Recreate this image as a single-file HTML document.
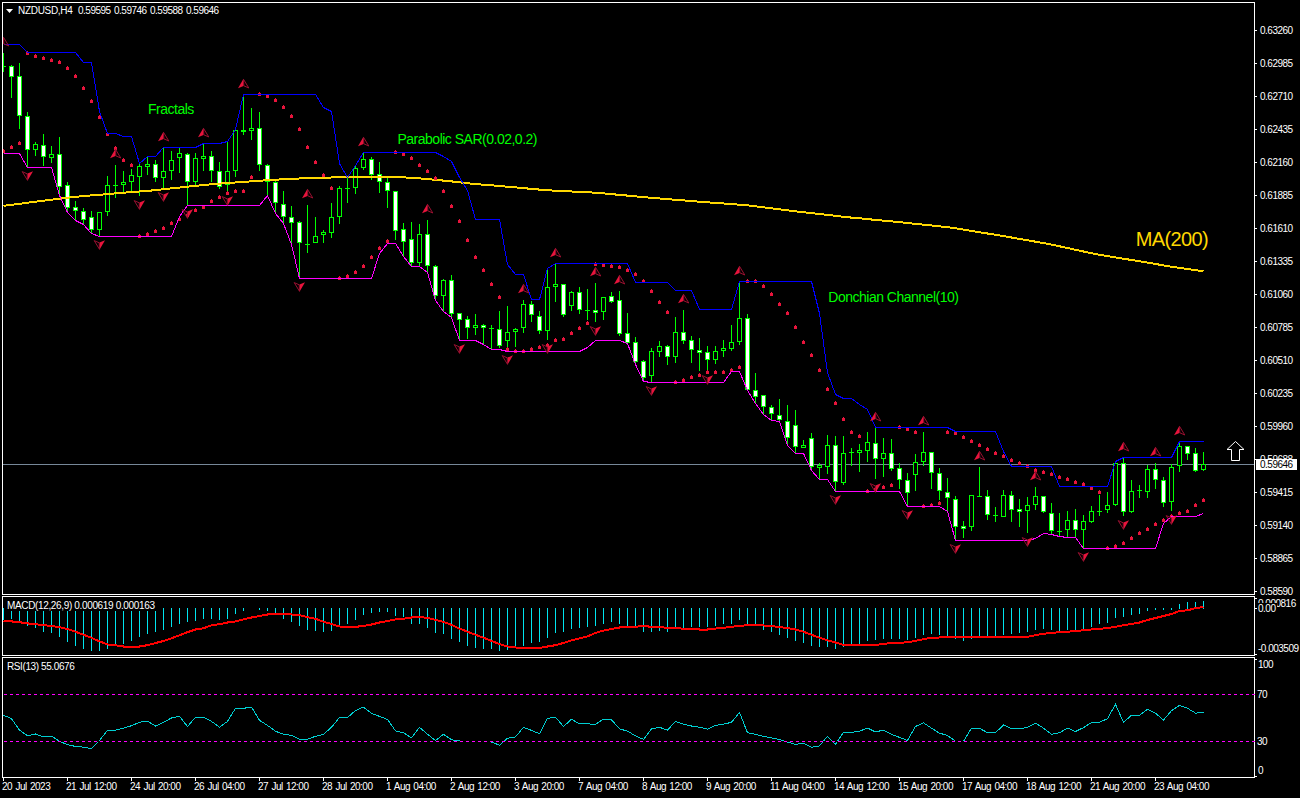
<!DOCTYPE html>
<html><head><meta charset="utf-8"><title>NZDUSD,H4</title>
<style>
html,body{margin:0;padding:0;background:#000;width:1300px;height:798px;overflow:hidden;}
svg{display:block;}
text{white-space:pre;}
</style></head><body>
<svg width="1300" height="798" viewBox="0 0 1300 798">
<defs><clipPath id="cm"><rect x="3" y="3" width="1251" height="591"/></clipPath><clipPath id="cd"><rect x="3" y="597" width="1251" height="58"/></clipPath><clipPath id="cr"><rect x="3" y="658" width="1251" height="119"/></clipPath></defs>
<rect width="1300" height="798" fill="#000"/>
<g shape-rendering="crispEdges">
<rect x="2" y="2" width="1253" height="1" fill="#fff"/>
<rect x="2" y="594" width="1253" height="1" fill="#fff"/>
<rect x="2" y="2" width="1" height="593" fill="#fff"/>
<rect x="1254" y="2" width="1" height="593" fill="#fff"/>
<rect x="2" y="596" width="1253" height="1" fill="#fff"/>
<rect x="2" y="655" width="1253" height="1" fill="#fff"/>
<rect x="2" y="596" width="1" height="60" fill="#fff"/>
<rect x="1254" y="596" width="1" height="60" fill="#fff"/>
<rect x="2" y="657" width="1253" height="1" fill="#fff"/>
<rect x="2" y="777" width="1253" height="1" fill="#fff"/>
<rect x="2" y="657" width="1" height="121" fill="#fff"/>
<rect x="1254" y="657" width="1" height="121" fill="#fff"/>
<g clip-path="url(#cm)">
<rect x="3" y="464" width="1251" height="1" fill="#778899"/>
<rect x="3" y="53" width="1" height="19" fill="#00ff00"/>
<rect x="1" y="66" width="5" height="1" fill="#00ff00"/>
<rect x="11" y="65" width="1" height="33" fill="#00ff00"/>
<rect x="9" y="66" width="5" height="11" fill="#00ff00"/>
<rect x="10" y="67" width="3" height="9" fill="#ffffff"/>
<rect x="19" y="63" width="1" height="66" fill="#00ff00"/>
<rect x="17" y="76" width="5" height="40" fill="#00ff00"/>
<rect x="18" y="77" width="3" height="38" fill="#ffffff"/>
<rect x="27" y="112" width="1" height="55" fill="#00ff00"/>
<rect x="25" y="116" width="5" height="34" fill="#00ff00"/>
<rect x="26" y="117" width="3" height="32" fill="#ffffff"/>
<rect x="35" y="142" width="1" height="14" fill="#00ff00"/>
<rect x="33" y="144" width="5" height="6" fill="#00ff00"/>
<rect x="34" y="145" width="3" height="4" fill="#000000"/>
<rect x="43" y="134" width="1" height="32" fill="#00ff00"/>
<rect x="41" y="145" width="5" height="12" fill="#00ff00"/>
<rect x="42" y="146" width="3" height="10" fill="#ffffff"/>
<rect x="51" y="146" width="1" height="17" fill="#00ff00"/>
<rect x="49" y="154" width="5" height="4" fill="#00ff00"/>
<rect x="50" y="155" width="3" height="2" fill="#000000"/>
<rect x="59" y="137" width="1" height="58" fill="#00ff00"/>
<rect x="57" y="154" width="5" height="33" fill="#00ff00"/>
<rect x="58" y="155" width="3" height="31" fill="#ffffff"/>
<rect x="67" y="182" width="1" height="30" fill="#00ff00"/>
<rect x="65" y="185" width="5" height="23" fill="#00ff00"/>
<rect x="66" y="186" width="3" height="21" fill="#ffffff"/>
<rect x="75" y="201" width="1" height="19" fill="#00ff00"/>
<rect x="73" y="207" width="5" height="4" fill="#00ff00"/>
<rect x="74" y="208" width="3" height="2" fill="#ffffff"/>
<rect x="83" y="208" width="1" height="16" fill="#00ff00"/>
<rect x="81" y="211" width="5" height="9" fill="#00ff00"/>
<rect x="82" y="212" width="3" height="7" fill="#ffffff"/>
<rect x="91" y="211" width="1" height="22" fill="#00ff00"/>
<rect x="89" y="217" width="5" height="13" fill="#00ff00"/>
<rect x="90" y="218" width="3" height="11" fill="#ffffff"/>
<rect x="99" y="212" width="1" height="24" fill="#00ff00"/>
<rect x="97" y="212" width="5" height="18" fill="#00ff00"/>
<rect x="98" y="213" width="3" height="16" fill="#000000"/>
<rect x="107" y="176" width="1" height="40" fill="#00ff00"/>
<rect x="105" y="185" width="5" height="27" fill="#00ff00"/>
<rect x="106" y="186" width="3" height="25" fill="#000000"/>
<rect x="115" y="165" width="1" height="33" fill="#00ff00"/>
<rect x="113" y="185" width="5" height="1" fill="#00ff00"/>
<rect x="123" y="171" width="1" height="21" fill="#00ff00"/>
<rect x="121" y="182" width="5" height="3" fill="#00ff00"/>
<rect x="122" y="183" width="3" height="1" fill="#000000"/>
<rect x="131" y="169" width="1" height="23" fill="#00ff00"/>
<rect x="129" y="175" width="5" height="7" fill="#00ff00"/>
<rect x="130" y="176" width="3" height="5" fill="#000000"/>
<rect x="139" y="164" width="1" height="32" fill="#00ff00"/>
<rect x="137" y="166" width="5" height="11" fill="#00ff00"/>
<rect x="138" y="167" width="3" height="9" fill="#000000"/>
<rect x="147" y="157" width="1" height="18" fill="#00ff00"/>
<rect x="145" y="164" width="5" height="3" fill="#00ff00"/>
<rect x="146" y="165" width="3" height="1" fill="#000000"/>
<rect x="155" y="160" width="1" height="22" fill="#00ff00"/>
<rect x="153" y="164" width="5" height="14" fill="#00ff00"/>
<rect x="154" y="165" width="3" height="12" fill="#ffffff"/>
<rect x="163" y="148" width="1" height="40" fill="#00ff00"/>
<rect x="161" y="171" width="5" height="7" fill="#00ff00"/>
<rect x="162" y="172" width="3" height="5" fill="#000000"/>
<rect x="171" y="151" width="1" height="29" fill="#00ff00"/>
<rect x="169" y="160" width="5" height="11" fill="#00ff00"/>
<rect x="170" y="161" width="3" height="9" fill="#000000"/>
<rect x="179" y="148" width="1" height="25" fill="#00ff00"/>
<rect x="177" y="153" width="5" height="5" fill="#00ff00"/>
<rect x="178" y="154" width="3" height="3" fill="#000000"/>
<rect x="187" y="153" width="1" height="52" fill="#00ff00"/>
<rect x="185" y="154" width="5" height="28" fill="#00ff00"/>
<rect x="186" y="155" width="3" height="26" fill="#ffffff"/>
<rect x="195" y="153" width="1" height="32" fill="#00ff00"/>
<rect x="193" y="158" width="5" height="24" fill="#00ff00"/>
<rect x="194" y="159" width="3" height="22" fill="#000000"/>
<rect x="203" y="144" width="1" height="27" fill="#00ff00"/>
<rect x="201" y="156" width="5" height="3" fill="#00ff00"/>
<rect x="202" y="157" width="3" height="1" fill="#000000"/>
<rect x="211" y="151" width="1" height="31" fill="#00ff00"/>
<rect x="209" y="156" width="5" height="15" fill="#00ff00"/>
<rect x="210" y="157" width="3" height="13" fill="#ffffff"/>
<rect x="219" y="162" width="1" height="27" fill="#00ff00"/>
<rect x="217" y="171" width="5" height="16" fill="#00ff00"/>
<rect x="218" y="172" width="3" height="14" fill="#ffffff"/>
<rect x="227" y="142" width="1" height="50" fill="#00ff00"/>
<rect x="225" y="171" width="5" height="14" fill="#00ff00"/>
<rect x="226" y="172" width="3" height="12" fill="#000000"/>
<rect x="235" y="130" width="1" height="47" fill="#00ff00"/>
<rect x="233" y="130" width="5" height="41" fill="#00ff00"/>
<rect x="234" y="131" width="3" height="39" fill="#000000"/>
<rect x="243" y="95" width="1" height="40" fill="#00ff00"/>
<rect x="241" y="130" width="5" height="2" fill="#00ff00"/>
<rect x="251" y="108" width="1" height="32" fill="#00ff00"/>
<rect x="249" y="128" width="5" height="3" fill="#00ff00"/>
<rect x="250" y="129" width="3" height="1" fill="#000000"/>
<rect x="259" y="112" width="1" height="59" fill="#00ff00"/>
<rect x="257" y="128" width="5" height="37" fill="#00ff00"/>
<rect x="258" y="129" width="3" height="35" fill="#ffffff"/>
<rect x="267" y="164" width="1" height="31" fill="#00ff00"/>
<rect x="265" y="165" width="5" height="17" fill="#00ff00"/>
<rect x="266" y="166" width="3" height="15" fill="#ffffff"/>
<rect x="275" y="181" width="1" height="32" fill="#00ff00"/>
<rect x="273" y="182" width="5" height="21" fill="#00ff00"/>
<rect x="274" y="183" width="3" height="19" fill="#ffffff"/>
<rect x="283" y="191" width="1" height="32" fill="#00ff00"/>
<rect x="281" y="204" width="5" height="13" fill="#00ff00"/>
<rect x="282" y="205" width="3" height="11" fill="#ffffff"/>
<rect x="291" y="206" width="1" height="38" fill="#00ff00"/>
<rect x="289" y="217" width="5" height="6" fill="#00ff00"/>
<rect x="290" y="218" width="3" height="4" fill="#ffffff"/>
<rect x="299" y="221" width="1" height="57" fill="#00ff00"/>
<rect x="297" y="222" width="5" height="21" fill="#00ff00"/>
<rect x="298" y="223" width="3" height="19" fill="#ffffff"/>
<rect x="307" y="205" width="1" height="48" fill="#00ff00"/>
<rect x="305" y="244" width="5" height="1" fill="#00ff00"/>
<rect x="315" y="217" width="1" height="26" fill="#00ff00"/>
<rect x="313" y="236" width="5" height="7" fill="#00ff00"/>
<rect x="314" y="237" width="3" height="5" fill="#000000"/>
<rect x="323" y="230" width="1" height="13" fill="#00ff00"/>
<rect x="321" y="232" width="5" height="3" fill="#00ff00"/>
<rect x="322" y="233" width="3" height="1" fill="#000000"/>
<rect x="331" y="203" width="1" height="35" fill="#00ff00"/>
<rect x="329" y="217" width="5" height="16" fill="#00ff00"/>
<rect x="330" y="218" width="3" height="14" fill="#000000"/>
<rect x="339" y="186" width="1" height="38" fill="#00ff00"/>
<rect x="337" y="188" width="5" height="29" fill="#00ff00"/>
<rect x="338" y="189" width="3" height="27" fill="#000000"/>
<rect x="347" y="178" width="1" height="25" fill="#00ff00"/>
<rect x="345" y="188" width="5" height="1" fill="#00ff00"/>
<rect x="355" y="166" width="1" height="28" fill="#00ff00"/>
<rect x="353" y="168" width="5" height="20" fill="#00ff00"/>
<rect x="354" y="169" width="3" height="18" fill="#000000"/>
<rect x="363" y="153" width="1" height="17" fill="#00ff00"/>
<rect x="361" y="159" width="5" height="9" fill="#00ff00"/>
<rect x="362" y="160" width="3" height="7" fill="#000000"/>
<rect x="371" y="157" width="1" height="23" fill="#00ff00"/>
<rect x="369" y="159" width="5" height="16" fill="#00ff00"/>
<rect x="370" y="160" width="3" height="14" fill="#ffffff"/>
<rect x="379" y="162" width="1" height="31" fill="#00ff00"/>
<rect x="377" y="174" width="5" height="8" fill="#00ff00"/>
<rect x="378" y="175" width="3" height="6" fill="#ffffff"/>
<rect x="387" y="178" width="1" height="30" fill="#00ff00"/>
<rect x="385" y="182" width="5" height="9" fill="#00ff00"/>
<rect x="386" y="183" width="3" height="7" fill="#ffffff"/>
<rect x="395" y="191" width="1" height="49" fill="#00ff00"/>
<rect x="393" y="191" width="5" height="40" fill="#00ff00"/>
<rect x="394" y="192" width="3" height="38" fill="#ffffff"/>
<rect x="403" y="223" width="1" height="33" fill="#00ff00"/>
<rect x="401" y="229" width="5" height="13" fill="#00ff00"/>
<rect x="402" y="230" width="3" height="11" fill="#ffffff"/>
<rect x="411" y="222" width="1" height="44" fill="#00ff00"/>
<rect x="409" y="239" width="5" height="24" fill="#00ff00"/>
<rect x="410" y="240" width="3" height="22" fill="#ffffff"/>
<rect x="419" y="224" width="1" height="42" fill="#00ff00"/>
<rect x="417" y="234" width="5" height="29" fill="#00ff00"/>
<rect x="418" y="235" width="3" height="27" fill="#000000"/>
<rect x="427" y="220" width="1" height="52" fill="#00ff00"/>
<rect x="425" y="234" width="5" height="32" fill="#00ff00"/>
<rect x="426" y="235" width="3" height="30" fill="#ffffff"/>
<rect x="435" y="265" width="1" height="35" fill="#00ff00"/>
<rect x="433" y="266" width="5" height="30" fill="#00ff00"/>
<rect x="434" y="267" width="3" height="28" fill="#ffffff"/>
<rect x="443" y="279" width="1" height="32" fill="#00ff00"/>
<rect x="441" y="280" width="5" height="16" fill="#00ff00"/>
<rect x="442" y="281" width="3" height="14" fill="#000000"/>
<rect x="451" y="275" width="1" height="42" fill="#00ff00"/>
<rect x="449" y="280" width="5" height="34" fill="#00ff00"/>
<rect x="450" y="281" width="3" height="32" fill="#ffffff"/>
<rect x="459" y="313" width="1" height="27" fill="#00ff00"/>
<rect x="457" y="313" width="5" height="7" fill="#00ff00"/>
<rect x="458" y="314" width="3" height="5" fill="#ffffff"/>
<rect x="467" y="316" width="1" height="23" fill="#00ff00"/>
<rect x="465" y="319" width="5" height="9" fill="#00ff00"/>
<rect x="466" y="320" width="3" height="7" fill="#ffffff"/>
<rect x="475" y="314" width="1" height="21" fill="#00ff00"/>
<rect x="473" y="325" width="5" height="3" fill="#00ff00"/>
<rect x="474" y="326" width="3" height="1" fill="#000000"/>
<rect x="483" y="324" width="1" height="20" fill="#00ff00"/>
<rect x="481" y="325" width="5" height="3" fill="#00ff00"/>
<rect x="482" y="326" width="3" height="1" fill="#ffffff"/>
<rect x="491" y="325" width="1" height="24" fill="#00ff00"/>
<rect x="489" y="328" width="5" height="1" fill="#00ff00"/>
<rect x="499" y="311" width="1" height="37" fill="#00ff00"/>
<rect x="497" y="329" width="5" height="17" fill="#00ff00"/>
<rect x="498" y="330" width="3" height="15" fill="#ffffff"/>
<rect x="507" y="306" width="1" height="45" fill="#00ff00"/>
<rect x="505" y="332" width="5" height="9" fill="#00ff00"/>
<rect x="506" y="333" width="3" height="7" fill="#000000"/>
<rect x="515" y="328" width="1" height="19" fill="#00ff00"/>
<rect x="513" y="329" width="5" height="3" fill="#00ff00"/>
<rect x="514" y="330" width="3" height="1" fill="#000000"/>
<rect x="523" y="300" width="1" height="33" fill="#00ff00"/>
<rect x="521" y="304" width="5" height="24" fill="#00ff00"/>
<rect x="522" y="305" width="3" height="22" fill="#000000"/>
<rect x="531" y="301" width="1" height="21" fill="#00ff00"/>
<rect x="529" y="304" width="5" height="11" fill="#00ff00"/>
<rect x="530" y="305" width="3" height="9" fill="#ffffff"/>
<rect x="539" y="311" width="1" height="23" fill="#00ff00"/>
<rect x="537" y="316" width="5" height="15" fill="#00ff00"/>
<rect x="538" y="317" width="3" height="13" fill="#ffffff"/>
<rect x="547" y="269" width="1" height="71" fill="#00ff00"/>
<rect x="545" y="287" width="5" height="44" fill="#00ff00"/>
<rect x="546" y="288" width="3" height="42" fill="#000000"/>
<rect x="555" y="264" width="1" height="38" fill="#00ff00"/>
<rect x="553" y="284" width="5" height="3" fill="#00ff00"/>
<rect x="554" y="285" width="3" height="1" fill="#000000"/>
<rect x="563" y="284" width="1" height="33" fill="#00ff00"/>
<rect x="561" y="284" width="5" height="31" fill="#00ff00"/>
<rect x="562" y="285" width="3" height="29" fill="#ffffff"/>
<rect x="571" y="291" width="1" height="20" fill="#00ff00"/>
<rect x="569" y="292" width="5" height="14" fill="#00ff00"/>
<rect x="570" y="293" width="3" height="12" fill="#000000"/>
<rect x="579" y="287" width="1" height="27" fill="#00ff00"/>
<rect x="577" y="292" width="5" height="18" fill="#00ff00"/>
<rect x="578" y="293" width="3" height="16" fill="#ffffff"/>
<rect x="587" y="289" width="1" height="31" fill="#00ff00"/>
<rect x="585" y="310" width="5" height="1" fill="#00ff00"/>
<rect x="595" y="283" width="1" height="39" fill="#00ff00"/>
<rect x="593" y="310" width="5" height="3" fill="#00ff00"/>
<rect x="594" y="311" width="3" height="1" fill="#ffffff"/>
<rect x="603" y="297" width="1" height="23" fill="#00ff00"/>
<rect x="601" y="297" width="5" height="15" fill="#00ff00"/>
<rect x="602" y="298" width="3" height="13" fill="#000000"/>
<rect x="611" y="292" width="1" height="11" fill="#00ff00"/>
<rect x="609" y="296" width="5" height="6" fill="#00ff00"/>
<rect x="610" y="297" width="3" height="4" fill="#ffffff"/>
<rect x="619" y="291" width="1" height="45" fill="#00ff00"/>
<rect x="617" y="300" width="5" height="34" fill="#00ff00"/>
<rect x="618" y="301" width="3" height="32" fill="#ffffff"/>
<rect x="627" y="313" width="1" height="30" fill="#00ff00"/>
<rect x="625" y="333" width="5" height="10" fill="#00ff00"/>
<rect x="626" y="334" width="3" height="8" fill="#ffffff"/>
<rect x="635" y="337" width="1" height="27" fill="#00ff00"/>
<rect x="633" y="342" width="5" height="20" fill="#00ff00"/>
<rect x="634" y="343" width="3" height="18" fill="#ffffff"/>
<rect x="643" y="360" width="1" height="21" fill="#00ff00"/>
<rect x="641" y="361" width="5" height="17" fill="#00ff00"/>
<rect x="642" y="362" width="3" height="15" fill="#ffffff"/>
<rect x="651" y="348" width="1" height="34" fill="#00ff00"/>
<rect x="649" y="351" width="5" height="25" fill="#00ff00"/>
<rect x="650" y="352" width="3" height="23" fill="#000000"/>
<rect x="659" y="341" width="1" height="16" fill="#00ff00"/>
<rect x="657" y="346" width="5" height="6" fill="#00ff00"/>
<rect x="658" y="347" width="3" height="4" fill="#000000"/>
<rect x="667" y="345" width="1" height="20" fill="#00ff00"/>
<rect x="665" y="346" width="5" height="11" fill="#00ff00"/>
<rect x="666" y="347" width="3" height="9" fill="#ffffff"/>
<rect x="675" y="317" width="1" height="46" fill="#00ff00"/>
<rect x="673" y="332" width="5" height="25" fill="#00ff00"/>
<rect x="674" y="333" width="3" height="23" fill="#000000"/>
<rect x="683" y="310" width="1" height="34" fill="#00ff00"/>
<rect x="681" y="332" width="5" height="9" fill="#00ff00"/>
<rect x="682" y="333" width="3" height="7" fill="#ffffff"/>
<rect x="691" y="336" width="1" height="27" fill="#00ff00"/>
<rect x="689" y="340" width="5" height="10" fill="#00ff00"/>
<rect x="690" y="341" width="3" height="8" fill="#ffffff"/>
<rect x="699" y="338" width="1" height="33" fill="#00ff00"/>
<rect x="697" y="350" width="5" height="3" fill="#00ff00"/>
<rect x="698" y="351" width="3" height="1" fill="#ffffff"/>
<rect x="707" y="346" width="1" height="25" fill="#00ff00"/>
<rect x="705" y="352" width="5" height="8" fill="#00ff00"/>
<rect x="706" y="353" width="3" height="6" fill="#ffffff"/>
<rect x="715" y="346" width="1" height="18" fill="#00ff00"/>
<rect x="713" y="351" width="5" height="9" fill="#00ff00"/>
<rect x="714" y="352" width="3" height="7" fill="#000000"/>
<rect x="723" y="340" width="1" height="17" fill="#00ff00"/>
<rect x="721" y="348" width="5" height="3" fill="#00ff00"/>
<rect x="722" y="349" width="3" height="1" fill="#000000"/>
<rect x="731" y="325" width="1" height="26" fill="#00ff00"/>
<rect x="729" y="342" width="5" height="7" fill="#00ff00"/>
<rect x="730" y="343" width="3" height="5" fill="#000000"/>
<rect x="739" y="282" width="1" height="63" fill="#00ff00"/>
<rect x="737" y="318" width="5" height="24" fill="#00ff00"/>
<rect x="738" y="319" width="3" height="22" fill="#000000"/>
<rect x="747" y="314" width="1" height="76" fill="#00ff00"/>
<rect x="745" y="318" width="5" height="72" fill="#00ff00"/>
<rect x="746" y="319" width="3" height="70" fill="#ffffff"/>
<rect x="755" y="373" width="1" height="30" fill="#00ff00"/>
<rect x="753" y="390" width="5" height="7" fill="#00ff00"/>
<rect x="754" y="391" width="3" height="5" fill="#ffffff"/>
<rect x="763" y="395" width="1" height="19" fill="#00ff00"/>
<rect x="761" y="395" width="5" height="12" fill="#00ff00"/>
<rect x="762" y="396" width="3" height="10" fill="#ffffff"/>
<rect x="771" y="405" width="1" height="15" fill="#00ff00"/>
<rect x="769" y="407" width="5" height="7" fill="#00ff00"/>
<rect x="770" y="408" width="3" height="5" fill="#ffffff"/>
<rect x="779" y="399" width="1" height="22" fill="#00ff00"/>
<rect x="777" y="415" width="5" height="5" fill="#00ff00"/>
<rect x="778" y="416" width="3" height="3" fill="#ffffff"/>
<rect x="787" y="405" width="1" height="40" fill="#00ff00"/>
<rect x="785" y="421" width="5" height="17" fill="#00ff00"/>
<rect x="786" y="422" width="3" height="15" fill="#ffffff"/>
<rect x="795" y="410" width="1" height="43" fill="#00ff00"/>
<rect x="793" y="425" width="5" height="22" fill="#00ff00"/>
<rect x="794" y="426" width="3" height="20" fill="#ffffff"/>
<rect x="803" y="440" width="1" height="8" fill="#00ff00"/>
<rect x="801" y="445" width="5" height="3" fill="#00ff00"/>
<rect x="802" y="446" width="3" height="1" fill="#000000"/>
<rect x="811" y="433" width="1" height="37" fill="#00ff00"/>
<rect x="809" y="438" width="5" height="29" fill="#00ff00"/>
<rect x="810" y="439" width="3" height="27" fill="#ffffff"/>
<rect x="819" y="463" width="1" height="16" fill="#00ff00"/>
<rect x="817" y="465" width="5" height="3" fill="#00ff00"/>
<rect x="818" y="466" width="3" height="1" fill="#000000"/>
<rect x="827" y="435" width="1" height="39" fill="#00ff00"/>
<rect x="825" y="445" width="5" height="22" fill="#00ff00"/>
<rect x="826" y="446" width="3" height="20" fill="#000000"/>
<rect x="835" y="436" width="1" height="55" fill="#00ff00"/>
<rect x="833" y="445" width="5" height="37" fill="#00ff00"/>
<rect x="834" y="446" width="3" height="35" fill="#ffffff"/>
<rect x="843" y="436" width="1" height="49" fill="#00ff00"/>
<rect x="841" y="453" width="5" height="30" fill="#00ff00"/>
<rect x="842" y="454" width="3" height="28" fill="#000000"/>
<rect x="851" y="448" width="1" height="18" fill="#00ff00"/>
<rect x="849" y="452" width="5" height="1" fill="#00ff00"/>
<rect x="859" y="444" width="1" height="28" fill="#00ff00"/>
<rect x="857" y="450" width="5" height="3" fill="#00ff00"/>
<rect x="858" y="451" width="3" height="1" fill="#000000"/>
<rect x="867" y="432" width="1" height="30" fill="#00ff00"/>
<rect x="865" y="442" width="5" height="9" fill="#00ff00"/>
<rect x="866" y="443" width="3" height="7" fill="#000000"/>
<rect x="875" y="428" width="1" height="51" fill="#00ff00"/>
<rect x="873" y="443" width="5" height="16" fill="#00ff00"/>
<rect x="874" y="444" width="3" height="14" fill="#ffffff"/>
<rect x="883" y="438" width="1" height="39" fill="#00ff00"/>
<rect x="881" y="453" width="5" height="6" fill="#00ff00"/>
<rect x="882" y="454" width="3" height="4" fill="#000000"/>
<rect x="891" y="439" width="1" height="32" fill="#00ff00"/>
<rect x="889" y="453" width="5" height="16" fill="#00ff00"/>
<rect x="890" y="454" width="3" height="14" fill="#ffffff"/>
<rect x="899" y="463" width="1" height="26" fill="#00ff00"/>
<rect x="897" y="468" width="5" height="12" fill="#00ff00"/>
<rect x="898" y="469" width="3" height="10" fill="#ffffff"/>
<rect x="907" y="473" width="1" height="33" fill="#00ff00"/>
<rect x="905" y="480" width="5" height="13" fill="#00ff00"/>
<rect x="906" y="481" width="3" height="11" fill="#ffffff"/>
<rect x="915" y="454" width="1" height="37" fill="#00ff00"/>
<rect x="913" y="462" width="5" height="13" fill="#00ff00"/>
<rect x="914" y="463" width="3" height="11" fill="#000000"/>
<rect x="923" y="432" width="1" height="34" fill="#00ff00"/>
<rect x="921" y="452" width="5" height="10" fill="#00ff00"/>
<rect x="922" y="453" width="3" height="8" fill="#000000"/>
<rect x="931" y="452" width="1" height="37" fill="#00ff00"/>
<rect x="929" y="452" width="5" height="21" fill="#00ff00"/>
<rect x="930" y="453" width="3" height="19" fill="#ffffff"/>
<rect x="939" y="468" width="1" height="32" fill="#00ff00"/>
<rect x="937" y="473" width="5" height="18" fill="#00ff00"/>
<rect x="938" y="474" width="3" height="16" fill="#ffffff"/>
<rect x="947" y="478" width="1" height="33" fill="#00ff00"/>
<rect x="945" y="492" width="5" height="6" fill="#00ff00"/>
<rect x="946" y="493" width="3" height="4" fill="#ffffff"/>
<rect x="955" y="496" width="1" height="44" fill="#00ff00"/>
<rect x="953" y="499" width="5" height="28" fill="#00ff00"/>
<rect x="954" y="500" width="3" height="26" fill="#ffffff"/>
<rect x="963" y="521" width="1" height="17" fill="#00ff00"/>
<rect x="961" y="526" width="5" height="3" fill="#00ff00"/>
<rect x="962" y="527" width="3" height="1" fill="#ffffff"/>
<rect x="971" y="495" width="1" height="36" fill="#00ff00"/>
<rect x="969" y="495" width="5" height="32" fill="#00ff00"/>
<rect x="970" y="496" width="3" height="30" fill="#000000"/>
<rect x="979" y="467" width="1" height="30" fill="#00ff00"/>
<rect x="977" y="496" width="5" height="1" fill="#00ff00"/>
<rect x="987" y="490" width="1" height="30" fill="#00ff00"/>
<rect x="985" y="496" width="5" height="19" fill="#00ff00"/>
<rect x="986" y="497" width="3" height="17" fill="#ffffff"/>
<rect x="995" y="507" width="1" height="15" fill="#00ff00"/>
<rect x="993" y="515" width="5" height="1" fill="#00ff00"/>
<rect x="1003" y="490" width="1" height="27" fill="#00ff00"/>
<rect x="1001" y="495" width="5" height="22" fill="#00ff00"/>
<rect x="1002" y="496" width="3" height="20" fill="#000000"/>
<rect x="1011" y="491" width="1" height="31" fill="#00ff00"/>
<rect x="1009" y="495" width="5" height="15" fill="#00ff00"/>
<rect x="1010" y="496" width="3" height="13" fill="#ffffff"/>
<rect x="1019" y="499" width="1" height="28" fill="#00ff00"/>
<rect x="1017" y="509" width="5" height="3" fill="#00ff00"/>
<rect x="1018" y="510" width="3" height="1" fill="#ffffff"/>
<rect x="1027" y="497" width="1" height="36" fill="#00ff00"/>
<rect x="1025" y="505" width="5" height="6" fill="#00ff00"/>
<rect x="1026" y="506" width="3" height="4" fill="#000000"/>
<rect x="1035" y="487" width="1" height="23" fill="#00ff00"/>
<rect x="1033" y="496" width="5" height="9" fill="#00ff00"/>
<rect x="1034" y="497" width="3" height="7" fill="#000000"/>
<rect x="1043" y="496" width="1" height="17" fill="#00ff00"/>
<rect x="1041" y="496" width="5" height="16" fill="#00ff00"/>
<rect x="1042" y="497" width="3" height="14" fill="#ffffff"/>
<rect x="1051" y="503" width="1" height="31" fill="#00ff00"/>
<rect x="1049" y="513" width="5" height="18" fill="#00ff00"/>
<rect x="1050" y="514" width="3" height="16" fill="#ffffff"/>
<rect x="1059" y="513" width="1" height="23" fill="#00ff00"/>
<rect x="1057" y="531" width="5" height="1" fill="#00ff00"/>
<rect x="1067" y="511" width="1" height="26" fill="#00ff00"/>
<rect x="1065" y="520" width="5" height="10" fill="#00ff00"/>
<rect x="1066" y="521" width="3" height="8" fill="#000000"/>
<rect x="1075" y="509" width="1" height="28" fill="#00ff00"/>
<rect x="1073" y="520" width="5" height="10" fill="#00ff00"/>
<rect x="1074" y="521" width="3" height="8" fill="#ffffff"/>
<rect x="1083" y="515" width="1" height="33" fill="#00ff00"/>
<rect x="1081" y="521" width="5" height="9" fill="#00ff00"/>
<rect x="1082" y="522" width="3" height="7" fill="#000000"/>
<rect x="1091" y="506" width="1" height="17" fill="#00ff00"/>
<rect x="1089" y="511" width="5" height="11" fill="#00ff00"/>
<rect x="1090" y="512" width="3" height="9" fill="#000000"/>
<rect x="1099" y="495" width="1" height="21" fill="#00ff00"/>
<rect x="1097" y="511" width="5" height="1" fill="#00ff00"/>
<rect x="1107" y="492" width="1" height="21" fill="#00ff00"/>
<rect x="1105" y="505" width="5" height="5" fill="#00ff00"/>
<rect x="1106" y="506" width="3" height="3" fill="#000000"/>
<rect x="1115" y="462" width="1" height="44" fill="#00ff00"/>
<rect x="1113" y="463" width="5" height="42" fill="#00ff00"/>
<rect x="1114" y="464" width="3" height="40" fill="#000000"/>
<rect x="1123" y="458" width="1" height="58" fill="#00ff00"/>
<rect x="1121" y="463" width="5" height="49" fill="#00ff00"/>
<rect x="1122" y="464" width="3" height="47" fill="#ffffff"/>
<rect x="1131" y="480" width="1" height="33" fill="#00ff00"/>
<rect x="1129" y="491" width="5" height="21" fill="#00ff00"/>
<rect x="1130" y="492" width="3" height="19" fill="#000000"/>
<rect x="1139" y="485" width="1" height="13" fill="#00ff00"/>
<rect x="1137" y="490" width="5" height="1" fill="#00ff00"/>
<rect x="1147" y="465" width="1" height="33" fill="#00ff00"/>
<rect x="1145" y="469" width="5" height="23" fill="#00ff00"/>
<rect x="1146" y="470" width="3" height="21" fill="#000000"/>
<rect x="1155" y="463" width="1" height="26" fill="#00ff00"/>
<rect x="1153" y="469" width="5" height="11" fill="#00ff00"/>
<rect x="1154" y="470" width="3" height="9" fill="#ffffff"/>
<rect x="1163" y="477" width="1" height="30" fill="#00ff00"/>
<rect x="1161" y="480" width="5" height="23" fill="#00ff00"/>
<rect x="1162" y="481" width="3" height="21" fill="#ffffff"/>
<rect x="1171" y="464" width="1" height="47" fill="#00ff00"/>
<rect x="1169" y="467" width="5" height="35" fill="#00ff00"/>
<rect x="1170" y="468" width="3" height="33" fill="#000000"/>
<rect x="1179" y="442" width="1" height="30" fill="#00ff00"/>
<rect x="1177" y="446" width="5" height="20" fill="#00ff00"/>
<rect x="1178" y="447" width="3" height="18" fill="#000000"/>
<rect x="1187" y="446" width="1" height="14" fill="#00ff00"/>
<rect x="1185" y="446" width="5" height="8" fill="#00ff00"/>
<rect x="1186" y="447" width="3" height="6" fill="#ffffff"/>
<rect x="1195" y="448" width="1" height="24" fill="#00ff00"/>
<rect x="1193" y="453" width="5" height="18" fill="#00ff00"/>
<rect x="1194" y="454" width="3" height="16" fill="#ffffff"/>
<rect x="1203" y="452" width="1" height="19" fill="#00ff00"/>
<rect x="1201" y="464" width="5" height="6" fill="#00ff00"/>
<rect x="1202" y="465" width="3" height="4" fill="#000000"/>
<polyline points="3.5,205.9 11.5,204.8 19.5,203.8 27.5,202.7 35.5,201.7 43.5,200.7 51.5,199.7 59.5,198.7 67.5,197.7 75.5,196.8 83.5,196.1 91.5,195.4 99.5,194.8 107.5,194.1 115.5,193.4 123.5,192.7 131.5,192.1 139.5,191.5 147.5,190.9 155.5,190.1 163.5,189.2 171.5,188.4 179.5,187.6 187.5,186.7 195.5,185.8 203.5,185.1 211.5,184.3 219.5,183.6 227.5,183.0 235.5,182.5 243.5,181.9 251.5,181.3 259.5,180.8 267.5,180.2 275.5,179.7 283.5,179.3 291.5,178.8 299.5,178.5 307.5,178.2 315.5,177.9 323.5,177.7 331.5,177.5 339.5,177.4 347.5,177.2 355.5,177.1 363.5,177.0 371.5,176.8 379.5,176.8 387.5,176.9 395.5,177.0 403.5,177.3 411.5,177.9 419.5,178.4 427.5,179.1 435.5,179.8 443.5,180.6 451.5,181.4 459.5,182.3 467.5,183.3 475.5,184.1 483.5,184.7 491.5,185.3 499.5,186.0 507.5,186.7 515.5,187.4 523.5,188.1 531.5,188.9 539.5,189.6 547.5,190.3 555.5,190.7 563.5,191.1 571.5,191.5 579.5,191.9 587.5,192.3 595.5,192.7 603.5,193.4 611.5,194.1 619.5,194.9 627.5,195.6 635.5,196.4 643.5,197.1 651.5,197.8 659.5,198.5 667.5,199.1 675.5,199.8 683.5,200.4 691.5,201.1 699.5,201.7 707.5,202.3 715.5,202.9 723.5,203.5 731.5,204.1 739.5,204.7 747.5,205.3 755.5,206.3 763.5,207.3 771.5,208.3 779.5,209.3 787.5,210.3 795.5,211.3 803.5,212.2 811.5,213.1 819.5,214.0 827.5,214.9 835.5,215.8 843.5,216.8 851.5,217.6 859.5,218.3 867.5,219.1 875.5,219.9 883.5,220.7 891.5,221.4 899.5,222.2 907.5,223.0 915.5,223.9 923.5,224.7 931.5,225.5 939.5,226.3 947.5,227.2 955.5,228.3 963.5,229.6 971.5,230.9 979.5,232.2 987.5,233.5 995.5,234.7 1003.5,236.1 1011.5,237.5 1019.5,238.9 1027.5,240.3 1035.5,241.7 1043.5,243.1 1051.5,244.6 1059.5,246.3 1067.5,248.0 1075.5,249.8 1083.5,251.5 1091.5,253.2 1099.5,254.8 1107.5,256.1 1115.5,257.4 1123.5,258.7 1131.5,260.0 1139.5,261.3 1147.5,262.6 1155.5,264.0 1163.5,265.4 1171.5,266.8 1179.5,267.9 1187.5,269.0 1195.5,270.2 1203.5,271.3" fill="none" stroke="#ffd700" stroke-width="2"/>
<rect x="2" y="150" width="3" height="3" fill="#e8143c"/>
<rect x="3" y="149" width="1" height="1" fill="#e8143c"/>
<rect x="10" y="146" width="3" height="3" fill="#e8143c"/>
<rect x="11" y="145" width="1" height="1" fill="#e8143c"/>
<rect x="18" y="142" width="3" height="3" fill="#e8143c"/>
<rect x="19" y="141" width="1" height="1" fill="#e8143c"/>
<rect x="26" y="52" width="3" height="3" fill="#e8143c"/>
<rect x="27" y="51" width="1" height="1" fill="#e8143c"/>
<rect x="34" y="55" width="3" height="3" fill="#e8143c"/>
<rect x="35" y="54" width="1" height="1" fill="#e8143c"/>
<rect x="42" y="57" width="3" height="3" fill="#e8143c"/>
<rect x="43" y="56" width="1" height="1" fill="#e8143c"/>
<rect x="50" y="59" width="3" height="3" fill="#e8143c"/>
<rect x="51" y="58" width="1" height="1" fill="#e8143c"/>
<rect x="58" y="61" width="3" height="3" fill="#e8143c"/>
<rect x="59" y="60" width="1" height="1" fill="#e8143c"/>
<rect x="66" y="67" width="3" height="3" fill="#e8143c"/>
<rect x="67" y="66" width="1" height="1" fill="#e8143c"/>
<rect x="74" y="75" width="3" height="3" fill="#e8143c"/>
<rect x="75" y="74" width="1" height="1" fill="#e8143c"/>
<rect x="82" y="87" width="3" height="3" fill="#e8143c"/>
<rect x="83" y="86" width="1" height="1" fill="#e8143c"/>
<rect x="90" y="100" width="3" height="3" fill="#e8143c"/>
<rect x="91" y="99" width="1" height="1" fill="#e8143c"/>
<rect x="98" y="116" width="3" height="3" fill="#e8143c"/>
<rect x="99" y="115" width="1" height="1" fill="#e8143c"/>
<rect x="106" y="133" width="3" height="3" fill="#e8143c"/>
<rect x="107" y="132" width="1" height="1" fill="#e8143c"/>
<rect x="114" y="147" width="3" height="3" fill="#e8143c"/>
<rect x="115" y="146" width="1" height="1" fill="#e8143c"/>
<rect x="122" y="159" width="3" height="3" fill="#e8143c"/>
<rect x="123" y="158" width="1" height="1" fill="#e8143c"/>
<rect x="130" y="164" width="3" height="3" fill="#e8143c"/>
<rect x="131" y="163" width="1" height="1" fill="#e8143c"/>
<rect x="138" y="235" width="3" height="3" fill="#e8143c"/>
<rect x="139" y="234" width="1" height="1" fill="#e8143c"/>
<rect x="146" y="233" width="3" height="3" fill="#e8143c"/>
<rect x="147" y="232" width="1" height="1" fill="#e8143c"/>
<rect x="154" y="230" width="3" height="3" fill="#e8143c"/>
<rect x="155" y="229" width="1" height="1" fill="#e8143c"/>
<rect x="162" y="227" width="3" height="3" fill="#e8143c"/>
<rect x="163" y="226" width="1" height="1" fill="#e8143c"/>
<rect x="170" y="222" width="3" height="3" fill="#e8143c"/>
<rect x="171" y="221" width="1" height="1" fill="#e8143c"/>
<rect x="178" y="218" width="3" height="3" fill="#e8143c"/>
<rect x="179" y="217" width="1" height="1" fill="#e8143c"/>
<rect x="186" y="214" width="3" height="3" fill="#e8143c"/>
<rect x="187" y="213" width="1" height="1" fill="#e8143c"/>
<rect x="194" y="209" width="3" height="3" fill="#e8143c"/>
<rect x="195" y="208" width="1" height="1" fill="#e8143c"/>
<rect x="202" y="206" width="3" height="3" fill="#e8143c"/>
<rect x="203" y="205" width="1" height="1" fill="#e8143c"/>
<rect x="210" y="200" width="3" height="3" fill="#e8143c"/>
<rect x="211" y="199" width="1" height="1" fill="#e8143c"/>
<rect x="218" y="196" width="3" height="3" fill="#e8143c"/>
<rect x="219" y="195" width="1" height="1" fill="#e8143c"/>
<rect x="226" y="192" width="3" height="3" fill="#e8143c"/>
<rect x="227" y="191" width="1" height="1" fill="#e8143c"/>
<rect x="234" y="190" width="3" height="3" fill="#e8143c"/>
<rect x="235" y="189" width="1" height="1" fill="#e8143c"/>
<rect x="242" y="190" width="3" height="3" fill="#e8143c"/>
<rect x="243" y="189" width="1" height="1" fill="#e8143c"/>
<rect x="250" y="176" width="3" height="3" fill="#e8143c"/>
<rect x="251" y="175" width="1" height="1" fill="#e8143c"/>
<rect x="258" y="93" width="3" height="3" fill="#e8143c"/>
<rect x="259" y="92" width="1" height="1" fill="#e8143c"/>
<rect x="266" y="95" width="3" height="3" fill="#e8143c"/>
<rect x="267" y="94" width="1" height="1" fill="#e8143c"/>
<rect x="274" y="99" width="3" height="3" fill="#e8143c"/>
<rect x="275" y="98" width="1" height="1" fill="#e8143c"/>
<rect x="282" y="106" width="3" height="3" fill="#e8143c"/>
<rect x="283" y="105" width="1" height="1" fill="#e8143c"/>
<rect x="290" y="115" width="3" height="3" fill="#e8143c"/>
<rect x="291" y="114" width="1" height="1" fill="#e8143c"/>
<rect x="298" y="128" width="3" height="3" fill="#e8143c"/>
<rect x="299" y="127" width="1" height="1" fill="#e8143c"/>
<rect x="306" y="146" width="3" height="3" fill="#e8143c"/>
<rect x="307" y="145" width="1" height="1" fill="#e8143c"/>
<rect x="314" y="161" width="3" height="3" fill="#e8143c"/>
<rect x="315" y="160" width="1" height="1" fill="#e8143c"/>
<rect x="322" y="174" width="3" height="3" fill="#e8143c"/>
<rect x="323" y="173" width="1" height="1" fill="#e8143c"/>
<rect x="330" y="187" width="3" height="3" fill="#e8143c"/>
<rect x="331" y="186" width="1" height="1" fill="#e8143c"/>
<rect x="338" y="277" width="3" height="3" fill="#e8143c"/>
<rect x="339" y="276" width="1" height="1" fill="#e8143c"/>
<rect x="346" y="275" width="3" height="3" fill="#e8143c"/>
<rect x="347" y="274" width="1" height="1" fill="#e8143c"/>
<rect x="354" y="271" width="3" height="3" fill="#e8143c"/>
<rect x="355" y="270" width="1" height="1" fill="#e8143c"/>
<rect x="362" y="265" width="3" height="3" fill="#e8143c"/>
<rect x="363" y="264" width="1" height="1" fill="#e8143c"/>
<rect x="370" y="256" width="3" height="3" fill="#e8143c"/>
<rect x="371" y="255" width="1" height="1" fill="#e8143c"/>
<rect x="378" y="247" width="3" height="3" fill="#e8143c"/>
<rect x="379" y="246" width="1" height="1" fill="#e8143c"/>
<rect x="386" y="240" width="3" height="3" fill="#e8143c"/>
<rect x="387" y="239" width="1" height="1" fill="#e8143c"/>
<rect x="394" y="151" width="3" height="3" fill="#e8143c"/>
<rect x="395" y="150" width="1" height="1" fill="#e8143c"/>
<rect x="402" y="153" width="3" height="3" fill="#e8143c"/>
<rect x="403" y="152" width="1" height="1" fill="#e8143c"/>
<rect x="410" y="157" width="3" height="3" fill="#e8143c"/>
<rect x="411" y="156" width="1" height="1" fill="#e8143c"/>
<rect x="418" y="164" width="3" height="3" fill="#e8143c"/>
<rect x="419" y="163" width="1" height="1" fill="#e8143c"/>
<rect x="426" y="170" width="3" height="3" fill="#e8143c"/>
<rect x="427" y="169" width="1" height="1" fill="#e8143c"/>
<rect x="434" y="177" width="3" height="3" fill="#e8143c"/>
<rect x="435" y="176" width="1" height="1" fill="#e8143c"/>
<rect x="442" y="190" width="3" height="3" fill="#e8143c"/>
<rect x="443" y="189" width="1" height="1" fill="#e8143c"/>
<rect x="450" y="205" width="3" height="3" fill="#e8143c"/>
<rect x="451" y="204" width="1" height="1" fill="#e8143c"/>
<rect x="458" y="220" width="3" height="3" fill="#e8143c"/>
<rect x="459" y="219" width="1" height="1" fill="#e8143c"/>
<rect x="466" y="239" width="3" height="3" fill="#e8143c"/>
<rect x="467" y="238" width="1" height="1" fill="#e8143c"/>
<rect x="474" y="256" width="3" height="3" fill="#e8143c"/>
<rect x="475" y="255" width="1" height="1" fill="#e8143c"/>
<rect x="482" y="269" width="3" height="3" fill="#e8143c"/>
<rect x="483" y="268" width="1" height="1" fill="#e8143c"/>
<rect x="490" y="283" width="3" height="3" fill="#e8143c"/>
<rect x="491" y="282" width="1" height="1" fill="#e8143c"/>
<rect x="498" y="296" width="3" height="3" fill="#e8143c"/>
<rect x="499" y="295" width="1" height="1" fill="#e8143c"/>
<rect x="506" y="348" width="3" height="3" fill="#e8143c"/>
<rect x="507" y="347" width="1" height="1" fill="#e8143c"/>
<rect x="514" y="350" width="3" height="3" fill="#e8143c"/>
<rect x="515" y="349" width="1" height="1" fill="#e8143c"/>
<rect x="522" y="350" width="3" height="3" fill="#e8143c"/>
<rect x="523" y="349" width="1" height="1" fill="#e8143c"/>
<rect x="530" y="348" width="3" height="3" fill="#e8143c"/>
<rect x="531" y="347" width="1" height="1" fill="#e8143c"/>
<rect x="538" y="346" width="3" height="3" fill="#e8143c"/>
<rect x="539" y="345" width="1" height="1" fill="#e8143c"/>
<rect x="546" y="344" width="3" height="3" fill="#e8143c"/>
<rect x="547" y="343" width="1" height="1" fill="#e8143c"/>
<rect x="554" y="339" width="3" height="3" fill="#e8143c"/>
<rect x="555" y="338" width="1" height="1" fill="#e8143c"/>
<rect x="562" y="338" width="3" height="3" fill="#e8143c"/>
<rect x="563" y="337" width="1" height="1" fill="#e8143c"/>
<rect x="570" y="332" width="3" height="3" fill="#e8143c"/>
<rect x="571" y="331" width="1" height="1" fill="#e8143c"/>
<rect x="578" y="327" width="3" height="3" fill="#e8143c"/>
<rect x="579" y="326" width="1" height="1" fill="#e8143c"/>
<rect x="586" y="322" width="3" height="3" fill="#e8143c"/>
<rect x="587" y="321" width="1" height="1" fill="#e8143c"/>
<rect x="594" y="263" width="3" height="3" fill="#e8143c"/>
<rect x="595" y="262" width="1" height="1" fill="#e8143c"/>
<rect x="602" y="264" width="3" height="3" fill="#e8143c"/>
<rect x="603" y="263" width="1" height="1" fill="#e8143c"/>
<rect x="610" y="265" width="3" height="3" fill="#e8143c"/>
<rect x="611" y="264" width="1" height="1" fill="#e8143c"/>
<rect x="618" y="266" width="3" height="3" fill="#e8143c"/>
<rect x="619" y="265" width="1" height="1" fill="#e8143c"/>
<rect x="626" y="269" width="3" height="3" fill="#e8143c"/>
<rect x="627" y="268" width="1" height="1" fill="#e8143c"/>
<rect x="634" y="273" width="3" height="3" fill="#e8143c"/>
<rect x="635" y="272" width="1" height="1" fill="#e8143c"/>
<rect x="642" y="280" width="3" height="3" fill="#e8143c"/>
<rect x="643" y="279" width="1" height="1" fill="#e8143c"/>
<rect x="650" y="290" width="3" height="3" fill="#e8143c"/>
<rect x="651" y="289" width="1" height="1" fill="#e8143c"/>
<rect x="658" y="301" width="3" height="3" fill="#e8143c"/>
<rect x="659" y="300" width="1" height="1" fill="#e8143c"/>
<rect x="666" y="311" width="3" height="3" fill="#e8143c"/>
<rect x="667" y="310" width="1" height="1" fill="#e8143c"/>
<rect x="674" y="381" width="3" height="3" fill="#e8143c"/>
<rect x="675" y="380" width="1" height="1" fill="#e8143c"/>
<rect x="682" y="379" width="3" height="3" fill="#e8143c"/>
<rect x="683" y="378" width="1" height="1" fill="#e8143c"/>
<rect x="690" y="376" width="3" height="3" fill="#e8143c"/>
<rect x="691" y="375" width="1" height="1" fill="#e8143c"/>
<rect x="698" y="374" width="3" height="3" fill="#e8143c"/>
<rect x="699" y="373" width="1" height="1" fill="#e8143c"/>
<rect x="706" y="371" width="3" height="3" fill="#e8143c"/>
<rect x="707" y="370" width="1" height="1" fill="#e8143c"/>
<rect x="714" y="371" width="3" height="3" fill="#e8143c"/>
<rect x="715" y="370" width="1" height="1" fill="#e8143c"/>
<rect x="722" y="371" width="3" height="3" fill="#e8143c"/>
<rect x="723" y="370" width="1" height="1" fill="#e8143c"/>
<rect x="730" y="369" width="3" height="3" fill="#e8143c"/>
<rect x="731" y="368" width="1" height="1" fill="#e8143c"/>
<rect x="738" y="366" width="3" height="3" fill="#e8143c"/>
<rect x="739" y="365" width="1" height="1" fill="#e8143c"/>
<rect x="746" y="280" width="3" height="3" fill="#e8143c"/>
<rect x="747" y="279" width="1" height="1" fill="#e8143c"/>
<rect x="754" y="280" width="3" height="3" fill="#e8143c"/>
<rect x="755" y="279" width="1" height="1" fill="#e8143c"/>
<rect x="762" y="285" width="3" height="3" fill="#e8143c"/>
<rect x="763" y="284" width="1" height="1" fill="#e8143c"/>
<rect x="770" y="293" width="3" height="3" fill="#e8143c"/>
<rect x="771" y="292" width="1" height="1" fill="#e8143c"/>
<rect x="778" y="303" width="3" height="3" fill="#e8143c"/>
<rect x="779" y="302" width="1" height="1" fill="#e8143c"/>
<rect x="786" y="312" width="3" height="3" fill="#e8143c"/>
<rect x="787" y="311" width="1" height="1" fill="#e8143c"/>
<rect x="794" y="326" width="3" height="3" fill="#e8143c"/>
<rect x="795" y="325" width="1" height="1" fill="#e8143c"/>
<rect x="802" y="341" width="3" height="3" fill="#e8143c"/>
<rect x="803" y="340" width="1" height="1" fill="#e8143c"/>
<rect x="810" y="354" width="3" height="3" fill="#e8143c"/>
<rect x="811" y="353" width="1" height="1" fill="#e8143c"/>
<rect x="818" y="369" width="3" height="3" fill="#e8143c"/>
<rect x="819" y="368" width="1" height="1" fill="#e8143c"/>
<rect x="826" y="388" width="3" height="3" fill="#e8143c"/>
<rect x="827" y="387" width="1" height="1" fill="#e8143c"/>
<rect x="834" y="402" width="3" height="3" fill="#e8143c"/>
<rect x="835" y="401" width="1" height="1" fill="#e8143c"/>
<rect x="842" y="418" width="3" height="3" fill="#e8143c"/>
<rect x="843" y="417" width="1" height="1" fill="#e8143c"/>
<rect x="850" y="431" width="3" height="3" fill="#e8143c"/>
<rect x="851" y="430" width="1" height="1" fill="#e8143c"/>
<rect x="858" y="435" width="3" height="3" fill="#e8143c"/>
<rect x="859" y="434" width="1" height="1" fill="#e8143c"/>
<rect x="866" y="490" width="3" height="3" fill="#e8143c"/>
<rect x="867" y="489" width="1" height="1" fill="#e8143c"/>
<rect x="874" y="488" width="3" height="3" fill="#e8143c"/>
<rect x="875" y="487" width="1" height="1" fill="#e8143c"/>
<rect x="882" y="486" width="3" height="3" fill="#e8143c"/>
<rect x="883" y="485" width="1" height="1" fill="#e8143c"/>
<rect x="890" y="484" width="3" height="3" fill="#e8143c"/>
<rect x="891" y="483" width="1" height="1" fill="#e8143c"/>
<rect x="898" y="426" width="3" height="3" fill="#e8143c"/>
<rect x="899" y="425" width="1" height="1" fill="#e8143c"/>
<rect x="906" y="428" width="3" height="3" fill="#e8143c"/>
<rect x="907" y="427" width="1" height="1" fill="#e8143c"/>
<rect x="914" y="431" width="3" height="3" fill="#e8143c"/>
<rect x="915" y="430" width="1" height="1" fill="#e8143c"/>
<rect x="922" y="505" width="3" height="3" fill="#e8143c"/>
<rect x="923" y="504" width="1" height="1" fill="#e8143c"/>
<rect x="930" y="504" width="3" height="3" fill="#e8143c"/>
<rect x="931" y="503" width="1" height="1" fill="#e8143c"/>
<rect x="938" y="502" width="3" height="3" fill="#e8143c"/>
<rect x="939" y="501" width="1" height="1" fill="#e8143c"/>
<rect x="946" y="431" width="3" height="3" fill="#e8143c"/>
<rect x="947" y="430" width="1" height="1" fill="#e8143c"/>
<rect x="954" y="432" width="3" height="3" fill="#e8143c"/>
<rect x="955" y="431" width="1" height="1" fill="#e8143c"/>
<rect x="962" y="436" width="3" height="3" fill="#e8143c"/>
<rect x="963" y="435" width="1" height="1" fill="#e8143c"/>
<rect x="970" y="440" width="3" height="3" fill="#e8143c"/>
<rect x="971" y="439" width="1" height="1" fill="#e8143c"/>
<rect x="978" y="444" width="3" height="3" fill="#e8143c"/>
<rect x="979" y="443" width="1" height="1" fill="#e8143c"/>
<rect x="986" y="448" width="3" height="3" fill="#e8143c"/>
<rect x="987" y="447" width="1" height="1" fill="#e8143c"/>
<rect x="994" y="452" width="3" height="3" fill="#e8143c"/>
<rect x="995" y="451" width="1" height="1" fill="#e8143c"/>
<rect x="1002" y="455" width="3" height="3" fill="#e8143c"/>
<rect x="1003" y="454" width="1" height="1" fill="#e8143c"/>
<rect x="1010" y="459" width="3" height="3" fill="#e8143c"/>
<rect x="1011" y="458" width="1" height="1" fill="#e8143c"/>
<rect x="1018" y="462" width="3" height="3" fill="#e8143c"/>
<rect x="1019" y="461" width="1" height="1" fill="#e8143c"/>
<rect x="1026" y="465" width="3" height="3" fill="#e8143c"/>
<rect x="1027" y="464" width="1" height="1" fill="#e8143c"/>
<rect x="1034" y="469" width="3" height="3" fill="#e8143c"/>
<rect x="1035" y="468" width="1" height="1" fill="#e8143c"/>
<rect x="1042" y="471" width="3" height="3" fill="#e8143c"/>
<rect x="1043" y="470" width="1" height="1" fill="#e8143c"/>
<rect x="1050" y="473" width="3" height="3" fill="#e8143c"/>
<rect x="1051" y="472" width="1" height="1" fill="#e8143c"/>
<rect x="1058" y="476" width="3" height="3" fill="#e8143c"/>
<rect x="1059" y="475" width="1" height="1" fill="#e8143c"/>
<rect x="1066" y="478" width="3" height="3" fill="#e8143c"/>
<rect x="1067" y="477" width="1" height="1" fill="#e8143c"/>
<rect x="1074" y="481" width="3" height="3" fill="#e8143c"/>
<rect x="1075" y="480" width="1" height="1" fill="#e8143c"/>
<rect x="1082" y="483" width="3" height="3" fill="#e8143c"/>
<rect x="1083" y="482" width="1" height="1" fill="#e8143c"/>
<rect x="1090" y="487" width="3" height="3" fill="#e8143c"/>
<rect x="1091" y="486" width="1" height="1" fill="#e8143c"/>
<rect x="1098" y="491" width="3" height="3" fill="#e8143c"/>
<rect x="1099" y="490" width="1" height="1" fill="#e8143c"/>
<rect x="1106" y="547" width="3" height="3" fill="#e8143c"/>
<rect x="1107" y="546" width="1" height="1" fill="#e8143c"/>
<rect x="1114" y="545" width="3" height="3" fill="#e8143c"/>
<rect x="1115" y="544" width="1" height="1" fill="#e8143c"/>
<rect x="1122" y="542" width="3" height="3" fill="#e8143c"/>
<rect x="1123" y="541" width="1" height="1" fill="#e8143c"/>
<rect x="1130" y="537" width="3" height="3" fill="#e8143c"/>
<rect x="1131" y="536" width="1" height="1" fill="#e8143c"/>
<rect x="1138" y="532" width="3" height="3" fill="#e8143c"/>
<rect x="1139" y="531" width="1" height="1" fill="#e8143c"/>
<rect x="1146" y="528" width="3" height="3" fill="#e8143c"/>
<rect x="1147" y="527" width="1" height="1" fill="#e8143c"/>
<rect x="1154" y="523" width="3" height="3" fill="#e8143c"/>
<rect x="1155" y="522" width="1" height="1" fill="#e8143c"/>
<rect x="1162" y="519" width="3" height="3" fill="#e8143c"/>
<rect x="1163" y="518" width="1" height="1" fill="#e8143c"/>
<rect x="1170" y="515" width="3" height="3" fill="#e8143c"/>
<rect x="1171" y="514" width="1" height="1" fill="#e8143c"/>
<rect x="1178" y="512" width="3" height="3" fill="#e8143c"/>
<rect x="1179" y="511" width="1" height="1" fill="#e8143c"/>
<rect x="1186" y="510" width="3" height="3" fill="#e8143c"/>
<rect x="1187" y="509" width="1" height="1" fill="#e8143c"/>
<rect x="1194" y="504" width="3" height="3" fill="#e8143c"/>
<rect x="1195" y="503" width="1" height="1" fill="#e8143c"/>
<rect x="1202" y="499" width="3" height="3" fill="#e8143c"/>
<rect x="1203" y="498" width="1" height="1" fill="#e8143c"/>
<polyline points="3.5,44.5 11.5,44.5 19.5,44.5 27.5,52.5 35.5,52.5 43.5,52.5 51.5,52.5 59.5,52.5 67.5,52.5 75.5,52.5 83.5,62.5 91.5,62.5 99.5,111.5 107.5,133.5 115.5,133.5 123.5,136.5 131.5,136.5 139.5,163.5 147.5,156.5 155.5,156.5 163.5,147.5 171.5,147.5 179.5,147.5 187.5,147.5 195.5,147.5 203.5,143.5 211.5,143.5 219.5,143.5 227.5,141.5 235.5,129.5 243.5,94.5 251.5,94.5 259.5,94.5 267.5,94.5 275.5,94.5 283.5,94.5 291.5,94.5 299.5,94.5 307.5,94.5 315.5,94.5 323.5,107.5 331.5,111.5 339.5,163.5 347.5,177.5 355.5,165.5 363.5,152.5 371.5,152.5 379.5,152.5 387.5,152.5 395.5,152.5 403.5,152.5 411.5,152.5 419.5,152.5 427.5,152.5 435.5,152.5 443.5,156.5 451.5,161.5 459.5,177.5 467.5,190.5 475.5,219.5 483.5,219.5 491.5,219.5 499.5,219.5 507.5,264.5 515.5,274.5 523.5,274.5 531.5,299.5 539.5,299.5 547.5,268.5 555.5,263.5 563.5,263.5 571.5,263.5 579.5,263.5 587.5,263.5 595.5,263.5 603.5,263.5 611.5,263.5 619.5,263.5 627.5,263.5 635.5,282.5 643.5,282.5 651.5,282.5 659.5,282.5 667.5,282.5 675.5,290.5 683.5,290.5 691.5,290.5 699.5,309.5 707.5,309.5 715.5,309.5 723.5,309.5 731.5,309.5 739.5,281.5 747.5,281.5 755.5,281.5 763.5,281.5 771.5,281.5 779.5,281.5 787.5,281.5 795.5,281.5 803.5,281.5 811.5,281.5 819.5,313.5 827.5,372.5 835.5,394.5 843.5,398.5 851.5,398.5 859.5,404.5 867.5,409.5 875.5,427.5 883.5,427.5 891.5,427.5 899.5,427.5 907.5,427.5 915.5,427.5 923.5,427.5 931.5,427.5 939.5,427.5 947.5,427.5 955.5,431.5 963.5,431.5 971.5,431.5 979.5,431.5 987.5,431.5 995.5,431.5 1003.5,451.5 1011.5,466.5 1019.5,466.5 1027.5,466.5 1035.5,466.5 1043.5,466.5 1051.5,466.5 1059.5,486.5 1067.5,486.5 1075.5,486.5 1083.5,486.5 1091.5,486.5 1099.5,486.5 1107.5,486.5 1115.5,461.5 1123.5,457.5 1131.5,457.5 1139.5,457.5 1147.5,457.5 1155.5,457.5 1163.5,457.5 1171.5,457.5 1179.5,441.5 1187.5,441.5 1195.5,441.5 1203.5,441.5" fill="none" stroke="#0000ff" stroke-width="1"/>
<polyline points="3.5,153.5 11.5,153.5 19.5,153.5 27.5,167.5 35.5,167.5 43.5,167.5 51.5,167.5 59.5,195.5 67.5,212.5 75.5,220.5 83.5,224.5 91.5,233.5 99.5,236.5 107.5,236.5 115.5,236.5 123.5,236.5 131.5,236.5 139.5,236.5 147.5,236.5 155.5,236.5 163.5,236.5 171.5,236.5 179.5,216.5 187.5,205.5 195.5,205.5 203.5,205.5 211.5,205.5 219.5,205.5 227.5,205.5 235.5,205.5 243.5,205.5 251.5,205.5 259.5,205.5 267.5,195.5 275.5,213.5 283.5,223.5 291.5,244.5 299.5,278.5 307.5,278.5 315.5,278.5 323.5,278.5 331.5,278.5 339.5,278.5 347.5,278.5 355.5,278.5 363.5,278.5 371.5,278.5 379.5,253.5 387.5,243.5 395.5,243.5 403.5,256.5 411.5,266.5 419.5,266.5 427.5,272.5 435.5,300.5 443.5,311.5 451.5,317.5 459.5,340.5 467.5,340.5 475.5,340.5 483.5,344.5 491.5,349.5 499.5,349.5 507.5,351.5 515.5,351.5 523.5,351.5 531.5,351.5 539.5,351.5 547.5,351.5 555.5,351.5 563.5,351.5 571.5,351.5 579.5,351.5 587.5,347.5 595.5,340.5 603.5,340.5 611.5,340.5 619.5,340.5 627.5,343.5 635.5,364.5 643.5,381.5 651.5,382.5 659.5,382.5 667.5,382.5 675.5,382.5 683.5,382.5 691.5,382.5 699.5,382.5 707.5,382.5 715.5,382.5 723.5,382.5 731.5,371.5 739.5,371.5 747.5,390.5 755.5,403.5 763.5,414.5 771.5,420.5 779.5,421.5 787.5,445.5 795.5,453.5 803.5,453.5 811.5,470.5 819.5,479.5 827.5,479.5 835.5,491.5 843.5,491.5 851.5,491.5 859.5,491.5 867.5,491.5 875.5,491.5 883.5,491.5 891.5,491.5 899.5,491.5 907.5,506.5 915.5,506.5 923.5,506.5 931.5,506.5 939.5,506.5 947.5,511.5 955.5,540.5 963.5,540.5 971.5,540.5 979.5,540.5 987.5,540.5 995.5,540.5 1003.5,540.5 1011.5,540.5 1019.5,540.5 1027.5,540.5 1035.5,538.5 1043.5,533.5 1051.5,534.5 1059.5,536.5 1067.5,537.5 1075.5,537.5 1083.5,548.5 1091.5,548.5 1099.5,548.5 1107.5,548.5 1115.5,548.5 1123.5,548.5 1131.5,548.5 1139.5,548.5 1147.5,548.5 1155.5,548.5 1163.5,523.5 1171.5,516.5 1179.5,516.5 1187.5,516.5 1195.5,516.5 1203.5,513.5" fill="none" stroke="#ff00ff" stroke-width="1"/>
</g>
<g clip-path="url(#cd)">
<rect x="3" y="608" width="1" height="12" fill="#00e5ee"/>
<rect x="11" y="608" width="1" height="11" fill="#00e5ee"/>
<rect x="19" y="608" width="1" height="13" fill="#00e5ee"/>
<rect x="27" y="608" width="1" height="18" fill="#00e5ee"/>
<rect x="35" y="608" width="1" height="20" fill="#00e5ee"/>
<rect x="43" y="608" width="1" height="24" fill="#00e5ee"/>
<rect x="51" y="608" width="1" height="25" fill="#00e5ee"/>
<rect x="59" y="608" width="1" height="29" fill="#00e5ee"/>
<rect x="67" y="608" width="1" height="34" fill="#00e5ee"/>
<rect x="75" y="608" width="1" height="38" fill="#00e5ee"/>
<rect x="83" y="608" width="1" height="41" fill="#00e5ee"/>
<rect x="91" y="608" width="1" height="43" fill="#00e5ee"/>
<rect x="99" y="608" width="1" height="43" fill="#00e5ee"/>
<rect x="107" y="608" width="1" height="41" fill="#00e5ee"/>
<rect x="115" y="608" width="1" height="36" fill="#00e5ee"/>
<rect x="123" y="608" width="1" height="36" fill="#00e5ee"/>
<rect x="131" y="608" width="1" height="33" fill="#00e5ee"/>
<rect x="139" y="608" width="1" height="29" fill="#00e5ee"/>
<rect x="147" y="608" width="1" height="26" fill="#00e5ee"/>
<rect x="155" y="608" width="1" height="24" fill="#00e5ee"/>
<rect x="163" y="608" width="1" height="22" fill="#00e5ee"/>
<rect x="171" y="608" width="1" height="19" fill="#00e5ee"/>
<rect x="179" y="608" width="1" height="16" fill="#00e5ee"/>
<rect x="187" y="608" width="1" height="14" fill="#00e5ee"/>
<rect x="195" y="608" width="1" height="13" fill="#00e5ee"/>
<rect x="203" y="608" width="1" height="11" fill="#00e5ee"/>
<rect x="211" y="608" width="1" height="11" fill="#00e5ee"/>
<rect x="219" y="608" width="1" height="12" fill="#00e5ee"/>
<rect x="227" y="608" width="1" height="11" fill="#00e5ee"/>
<rect x="235" y="608" width="1" height="6" fill="#00e5ee"/>
<rect x="243" y="608" width="1" height="3" fill="#00e5ee"/>
<rect x="259" y="608" width="1" height="2" fill="#00e5ee"/>
<rect x="267" y="608" width="1" height="3" fill="#00e5ee"/>
<rect x="275" y="608" width="1" height="5" fill="#00e5ee"/>
<rect x="283" y="608" width="1" height="11" fill="#00e5ee"/>
<rect x="291" y="608" width="1" height="14" fill="#00e5ee"/>
<rect x="299" y="608" width="1" height="18" fill="#00e5ee"/>
<rect x="307" y="608" width="1" height="22" fill="#00e5ee"/>
<rect x="315" y="608" width="1" height="23" fill="#00e5ee"/>
<rect x="323" y="608" width="1" height="24" fill="#00e5ee"/>
<rect x="331" y="608" width="1" height="23" fill="#00e5ee"/>
<rect x="339" y="608" width="1" height="17" fill="#00e5ee"/>
<rect x="347" y="608" width="1" height="16" fill="#00e5ee"/>
<rect x="355" y="608" width="1" height="12" fill="#00e5ee"/>
<rect x="363" y="608" width="1" height="7" fill="#00e5ee"/>
<rect x="371" y="608" width="1" height="5" fill="#00e5ee"/>
<rect x="379" y="608" width="1" height="4" fill="#00e5ee"/>
<rect x="387" y="608" width="1" height="4" fill="#00e5ee"/>
<rect x="395" y="608" width="1" height="8" fill="#00e5ee"/>
<rect x="403" y="608" width="1" height="9" fill="#00e5ee"/>
<rect x="411" y="608" width="1" height="16" fill="#00e5ee"/>
<rect x="419" y="608" width="1" height="16" fill="#00e5ee"/>
<rect x="427" y="608" width="1" height="20" fill="#00e5ee"/>
<rect x="435" y="608" width="1" height="25" fill="#00e5ee"/>
<rect x="443" y="608" width="1" height="26" fill="#00e5ee"/>
<rect x="451" y="608" width="1" height="31" fill="#00e5ee"/>
<rect x="459" y="608" width="1" height="34" fill="#00e5ee"/>
<rect x="467" y="608" width="1" height="38" fill="#00e5ee"/>
<rect x="475" y="608" width="1" height="40" fill="#00e5ee"/>
<rect x="483" y="608" width="1" height="41" fill="#00e5ee"/>
<rect x="491" y="608" width="1" height="41" fill="#00e5ee"/>
<rect x="499" y="608" width="1" height="43" fill="#00e5ee"/>
<rect x="507" y="608" width="1" height="42" fill="#00e5ee"/>
<rect x="515" y="608" width="1" height="38" fill="#00e5ee"/>
<rect x="523" y="608" width="1" height="38" fill="#00e5ee"/>
<rect x="531" y="608" width="1" height="35" fill="#00e5ee"/>
<rect x="539" y="608" width="1" height="34" fill="#00e5ee"/>
<rect x="547" y="608" width="1" height="30" fill="#00e5ee"/>
<rect x="555" y="608" width="1" height="25" fill="#00e5ee"/>
<rect x="563" y="608" width="1" height="24" fill="#00e5ee"/>
<rect x="571" y="608" width="1" height="21" fill="#00e5ee"/>
<rect x="579" y="608" width="1" height="20" fill="#00e5ee"/>
<rect x="587" y="608" width="1" height="19" fill="#00e5ee"/>
<rect x="595" y="608" width="1" height="18" fill="#00e5ee"/>
<rect x="603" y="608" width="1" height="16" fill="#00e5ee"/>
<rect x="611" y="608" width="1" height="14" fill="#00e5ee"/>
<rect x="619" y="608" width="1" height="16" fill="#00e5ee"/>
<rect x="627" y="608" width="1" height="18" fill="#00e5ee"/>
<rect x="635" y="608" width="1" height="18" fill="#00e5ee"/>
<rect x="643" y="608" width="1" height="24" fill="#00e5ee"/>
<rect x="651" y="608" width="1" height="24" fill="#00e5ee"/>
<rect x="659" y="608" width="1" height="23" fill="#00e5ee"/>
<rect x="667" y="608" width="1" height="24" fill="#00e5ee"/>
<rect x="675" y="608" width="1" height="19" fill="#00e5ee"/>
<rect x="683" y="608" width="1" height="20" fill="#00e5ee"/>
<rect x="691" y="608" width="1" height="19" fill="#00e5ee"/>
<rect x="699" y="608" width="1" height="19" fill="#00e5ee"/>
<rect x="707" y="608" width="1" height="19" fill="#00e5ee"/>
<rect x="715" y="608" width="1" height="18" fill="#00e5ee"/>
<rect x="723" y="608" width="1" height="16" fill="#00e5ee"/>
<rect x="731" y="608" width="1" height="16" fill="#00e5ee"/>
<rect x="739" y="608" width="1" height="12" fill="#00e5ee"/>
<rect x="747" y="608" width="1" height="16" fill="#00e5ee"/>
<rect x="755" y="608" width="1" height="16" fill="#00e5ee"/>
<rect x="763" y="608" width="1" height="22" fill="#00e5ee"/>
<rect x="771" y="608" width="1" height="24" fill="#00e5ee"/>
<rect x="779" y="608" width="1" height="27" fill="#00e5ee"/>
<rect x="787" y="608" width="1" height="30" fill="#00e5ee"/>
<rect x="795" y="608" width="1" height="33" fill="#00e5ee"/>
<rect x="803" y="608" width="1" height="35" fill="#00e5ee"/>
<rect x="811" y="608" width="1" height="38" fill="#00e5ee"/>
<rect x="819" y="608" width="1" height="39" fill="#00e5ee"/>
<rect x="827" y="608" width="1" height="39" fill="#00e5ee"/>
<rect x="835" y="608" width="1" height="41" fill="#00e5ee"/>
<rect x="843" y="608" width="1" height="39" fill="#00e5ee"/>
<rect x="851" y="608" width="1" height="36" fill="#00e5ee"/>
<rect x="859" y="608" width="1" height="36" fill="#00e5ee"/>
<rect x="867" y="608" width="1" height="33" fill="#00e5ee"/>
<rect x="875" y="608" width="1" height="32" fill="#00e5ee"/>
<rect x="883" y="608" width="1" height="31" fill="#00e5ee"/>
<rect x="891" y="608" width="1" height="31" fill="#00e5ee"/>
<rect x="899" y="608" width="1" height="31" fill="#00e5ee"/>
<rect x="907" y="608" width="1" height="32" fill="#00e5ee"/>
<rect x="915" y="608" width="1" height="30" fill="#00e5ee"/>
<rect x="923" y="608" width="1" height="27" fill="#00e5ee"/>
<rect x="931" y="608" width="1" height="26" fill="#00e5ee"/>
<rect x="939" y="608" width="1" height="27" fill="#00e5ee"/>
<rect x="947" y="608" width="1" height="28" fill="#00e5ee"/>
<rect x="955" y="608" width="1" height="31" fill="#00e5ee"/>
<rect x="963" y="608" width="1" height="33" fill="#00e5ee"/>
<rect x="971" y="608" width="1" height="31" fill="#00e5ee"/>
<rect x="979" y="608" width="1" height="28" fill="#00e5ee"/>
<rect x="987" y="608" width="1" height="28" fill="#00e5ee"/>
<rect x="995" y="608" width="1" height="28" fill="#00e5ee"/>
<rect x="1003" y="608" width="1" height="27" fill="#00e5ee"/>
<rect x="1011" y="608" width="1" height="26" fill="#00e5ee"/>
<rect x="1019" y="608" width="1" height="25" fill="#00e5ee"/>
<rect x="1027" y="608" width="1" height="24" fill="#00e5ee"/>
<rect x="1035" y="608" width="1" height="22" fill="#00e5ee"/>
<rect x="1043" y="608" width="1" height="21" fill="#00e5ee"/>
<rect x="1051" y="608" width="1" height="22" fill="#00e5ee"/>
<rect x="1059" y="608" width="1" height="23" fill="#00e5ee"/>
<rect x="1067" y="608" width="1" height="22" fill="#00e5ee"/>
<rect x="1075" y="608" width="1" height="22" fill="#00e5ee"/>
<rect x="1083" y="608" width="1" height="21" fill="#00e5ee"/>
<rect x="1091" y="608" width="1" height="19" fill="#00e5ee"/>
<rect x="1099" y="608" width="1" height="16" fill="#00e5ee"/>
<rect x="1107" y="608" width="1" height="15" fill="#00e5ee"/>
<rect x="1115" y="608" width="1" height="10" fill="#00e5ee"/>
<rect x="1123" y="608" width="1" height="9" fill="#00e5ee"/>
<rect x="1131" y="608" width="1" height="7" fill="#00e5ee"/>
<rect x="1139" y="608" width="1" height="6" fill="#00e5ee"/>
<rect x="1147" y="608" width="1" height="3" fill="#00e5ee"/>
<rect x="1155" y="608" width="1" height="2" fill="#00e5ee"/>
<rect x="1163" y="608" width="1" height="2" fill="#00e5ee"/>
<rect x="1171" y="608" width="1" height="2" fill="#00e5ee"/>
<rect x="1179" y="604" width="1" height="5" fill="#00e5ee"/>
<rect x="1187" y="602" width="1" height="7" fill="#00e5ee"/>
<rect x="1195" y="602" width="1" height="7" fill="#00e5ee"/>
<rect x="1203" y="601" width="1" height="8" fill="#00e5ee"/>
<rect x="5" y="599" width="152" height="12" fill="#000"/>
<polyline points="3.5,620.6 11.5,621.4 19.5,622.2 27.5,623.4 35.5,624.2 43.5,625.2 51.5,626.0 59.5,627.2 67.5,629.0 75.5,631.7 83.5,634.8 91.5,637.8 99.5,641.4 107.5,644.5 115.5,645.2 123.5,646.5 131.5,646.5 139.5,646.5 147.5,645.2 155.5,643.0 163.5,641.0 171.5,638.3 179.5,635.2 187.5,632.2 195.5,629.5 203.5,628.3 211.5,625.2 219.5,624.2 227.5,622.5 235.5,621.4 243.5,619.4 251.5,617.5 259.5,616.0 267.5,614.5 275.5,613.7 283.5,613.7 291.5,614.5 299.5,615.2 307.5,617.2 315.5,618.8 323.5,621.8 331.5,624.0 339.5,626.5 347.5,626.8 355.5,626.8 363.5,626.0 371.5,624.5 379.5,622.5 387.5,621.0 395.5,619.4 403.5,618.8 411.5,617.5 419.5,616.8 427.5,618.0 435.5,619.8 443.5,621.8 451.5,624.9 459.5,628.6 467.5,631.7 475.5,634.8 483.5,637.8 491.5,640.9 499.5,644.0 507.5,646.5 515.5,647.5 523.5,648.0 531.5,648.0 539.5,648.0 547.5,646.5 555.5,645.2 563.5,642.9 571.5,640.3 579.5,638.3 587.5,636.3 595.5,632.9 603.5,630.6 611.5,629.0 619.5,627.5 627.5,626.8 635.5,626.8 643.5,626.0 651.5,626.8 659.5,627.1 667.5,627.8 675.5,628.3 683.5,628.6 691.5,629.0 699.5,629.5 707.5,629.5 715.5,628.6 723.5,627.8 731.5,626.8 739.5,626.0 747.5,625.2 755.5,624.9 763.5,625.5 771.5,626.0 779.5,627.2 787.5,628.0 795.5,629.5 803.5,631.7 811.5,634.8 819.5,637.8 827.5,640.3 835.5,642.5 843.5,644.9 851.5,644.9 859.5,644.9 867.5,644.9 875.5,644.9 883.5,644.0 891.5,642.9 899.5,642.9 907.5,642.2 915.5,640.9 923.5,639.1 931.5,637.8 939.5,637.5 947.5,636.8 955.5,636.8 963.5,636.8 971.5,636.8 979.5,636.8 987.5,636.8 995.5,636.8 1003.5,636.8 1011.5,636.8 1019.5,636.8 1027.5,636.8 1035.5,635.2 1043.5,633.7 1051.5,633.0 1059.5,632.2 1067.5,631.7 1075.5,631.1 1083.5,630.2 1091.5,629.5 1099.5,629.0 1107.5,628.0 1115.5,626.8 1123.5,625.2 1131.5,624.0 1139.5,622.5 1147.5,620.0 1155.5,618.0 1163.5,616.0 1171.5,614.0 1179.5,611.0 1187.5,610.3 1195.5,608.2 1203.5,607.0" fill="none" stroke="#ff0000" stroke-width="2"/>
</g>
<g clip-path="url(#cr)">
<polyline points="3.5,715.2 11.5,718.7 19.5,730.1 27.5,735.8 35.5,734.0 43.5,736.9 51.5,736.1 59.5,741.3 67.5,744.8 75.5,746.4 83.5,747.2 91.5,748.6 99.5,740.5 107.5,730.4 115.5,730.1 123.5,728.1 131.5,725.7 139.5,722.3 147.5,721.1 155.5,726.0 163.5,722.3 171.5,718.0 179.5,716.4 187.5,726.5 195.5,717.2 203.5,717.2 211.5,721.4 219.5,727.3 227.5,721.4 235.5,708.3 243.5,708.3 251.5,707.1 259.5,720.3 267.5,725.4 275.5,731.2 283.5,734.3 291.5,735.4 299.5,739.2 307.5,739.2 315.5,736.3 323.5,734.3 331.5,727.3 339.5,717.5 347.5,717.5 355.5,710.5 363.5,707.1 371.5,713.3 379.5,716.4 387.5,719.5 395.5,730.8 403.5,732.8 411.5,737.8 419.5,727.3 427.5,734.3 435.5,740.5 443.5,734.3 451.5,739.7 459.5,741.0 467.5,742.0 475.5,741.0 483.5,741.0 491.5,742.0 499.5,745.2 507.5,738.2 515.5,736.9 523.5,727.3 531.5,730.4 539.5,733.8 547.5,718.3 555.5,717.2 563.5,726.5 571.5,719.2 579.5,723.9 587.5,723.9 595.5,724.2 603.5,719.2 611.5,719.8 619.5,728.8 627.5,731.2 635.5,735.8 643.5,739.4 651.5,728.8 659.5,727.3 667.5,730.1 675.5,721.4 683.5,724.2 691.5,726.0 699.5,727.3 707.5,729.1 715.5,725.4 723.5,724.2 731.5,722.3 739.5,712.5 747.5,732.7 755.5,734.3 763.5,736.3 771.5,737.8 779.5,739.7 787.5,742.0 795.5,744.4 803.5,743.1 811.5,747.2 819.5,745.9 827.5,736.3 835.5,744.4 843.5,732.3 851.5,732.3 859.5,731.2 867.5,728.1 875.5,731.9 883.5,730.1 891.5,734.3 899.5,737.4 907.5,740.5 915.5,726.5 923.5,722.9 931.5,728.1 939.5,733.2 947.5,735.4 955.5,741.3 963.5,741.3 971.5,728.1 979.5,728.3 987.5,732.7 995.5,732.7 1003.5,725.0 1011.5,728.8 1019.5,728.8 1027.5,727.3 1035.5,723.1 1043.5,728.1 1051.5,734.3 1059.5,732.7 1067.5,728.1 1075.5,731.5 1083.5,727.6 1091.5,722.6 1099.5,722.3 1107.5,718.7 1115.5,704.3 1123.5,722.3 1131.5,715.2 1139.5,715.2 1147.5,709.3 1155.5,713.3 1163.5,720.0 1171.5,710.6 1179.5,705.3 1187.5,708.3 1195.5,713.1 1203.5,712.4" fill="none" stroke="#00ced1" stroke-width="1"/>
<rect x="3" y="694" width="1251" height="1" fill="#000"/>
<rect x="3" y="741" width="1251" height="1" fill="#000"/>
</g>
<line x1="4" y1="694.5" x2="1255" y2="694.5" stroke="#ff00ff" stroke-width="1" stroke-dasharray="3 3"/>
<line x1="4" y1="741.5" x2="1255" y2="741.5" stroke="#ff00ff" stroke-width="1" stroke-dasharray="3 3"/>
</g>
<g clip-path="url(#cm)">
<path d="M3.5,36.8 L-2,46.3 L3.5,44.0 Z" fill="#e8143c"/>
<path d="M3.5,37.3 L8.8,46.0 L3.8,43.8 Z" fill="none" stroke="#9a1030" stroke-width="1"/>
<path d="M115.5,148.8 L110,158.3 L115.5,156.0 Z" fill="#e8143c"/>
<path d="M115.5,149.3 L120.8,158.0 L115.8,155.8 Z" fill="none" stroke="#9a1030" stroke-width="1"/>
<path d="M163.5,131.8 L158,141.3 L163.5,139.0 Z" fill="#e8143c"/>
<path d="M163.5,132.3 L168.8,141.0 L163.8,138.8 Z" fill="none" stroke="#9a1030" stroke-width="1"/>
<path d="M203.5,127.8 L198,137.3 L203.5,135.0 Z" fill="#e8143c"/>
<path d="M203.5,128.3 L208.8,137.0 L203.8,134.8 Z" fill="none" stroke="#9a1030" stroke-width="1"/>
<path d="M243.5,78.8 L238,88.3 L243.5,86.0 Z" fill="#e8143c"/>
<path d="M243.5,79.3 L248.8,88.0 L243.8,85.8 Z" fill="none" stroke="#9a1030" stroke-width="1"/>
<path d="M307.5,188.8 L302,198.3 L307.5,196.0 Z" fill="#e8143c"/>
<path d="M307.5,189.3 L312.8,198.0 L307.8,195.8 Z" fill="none" stroke="#9a1030" stroke-width="1"/>
<path d="M363.5,136.8 L358,146.3 L363.5,144.0 Z" fill="#e8143c"/>
<path d="M363.5,137.3 L368.8,146.0 L363.8,143.8 Z" fill="none" stroke="#9a1030" stroke-width="1"/>
<path d="M427.5,203.8 L422,213.3 L427.5,211.0 Z" fill="#e8143c"/>
<path d="M427.5,204.3 L432.8,213.0 L427.8,210.8 Z" fill="none" stroke="#9a1030" stroke-width="1"/>
<path d="M523.5,283.8 L518,293.3 L523.5,291.0 Z" fill="#e8143c"/>
<path d="M523.5,284.3 L528.8,293.0 L523.8,290.8 Z" fill="none" stroke="#9a1030" stroke-width="1"/>
<path d="M555.5,247.8 L550,257.3 L555.5,255.0 Z" fill="#e8143c"/>
<path d="M555.5,248.3 L560.8,257.0 L555.8,254.8 Z" fill="none" stroke="#9a1030" stroke-width="1"/>
<path d="M595.5,266.8 L590,276.3 L595.5,274.0 Z" fill="#e8143c"/>
<path d="M595.5,267.3 L600.8,276.0 L595.8,273.8 Z" fill="none" stroke="#9a1030" stroke-width="1"/>
<path d="M619.5,274.8 L614,284.3 L619.5,282.0 Z" fill="#e8143c"/>
<path d="M619.5,275.3 L624.8,284.0 L619.8,281.8 Z" fill="none" stroke="#9a1030" stroke-width="1"/>
<path d="M683.5,293.8 L678,303.3 L683.5,301.0 Z" fill="#e8143c"/>
<path d="M683.5,294.3 L688.8,303.0 L683.8,300.8 Z" fill="none" stroke="#9a1030" stroke-width="1"/>
<path d="M739.5,265.8 L734,275.3 L739.5,273.0 Z" fill="#e8143c"/>
<path d="M739.5,266.3 L744.8,275.0 L739.8,272.8 Z" fill="none" stroke="#9a1030" stroke-width="1"/>
<path d="M875.5,411.8 L870,421.3 L875.5,419.0 Z" fill="#e8143c"/>
<path d="M875.5,412.3 L880.8,421.0 L875.8,418.8 Z" fill="none" stroke="#9a1030" stroke-width="1"/>
<path d="M923.5,415.8 L918,425.3 L923.5,423.0 Z" fill="#e8143c"/>
<path d="M923.5,416.3 L928.8,425.0 L923.8,422.8 Z" fill="none" stroke="#9a1030" stroke-width="1"/>
<path d="M979.5,450.8 L974,460.3 L979.5,458.0 Z" fill="#e8143c"/>
<path d="M979.5,451.3 L984.8,460.0 L979.8,457.8 Z" fill="none" stroke="#9a1030" stroke-width="1"/>
<path d="M1035.5,470.8 L1030,480.3 L1035.5,478.0 Z" fill="#e8143c"/>
<path d="M1035.5,471.3 L1040.8,480.0 L1035.8,477.8 Z" fill="none" stroke="#9a1030" stroke-width="1"/>
<path d="M1123.5,441.8 L1118,451.3 L1123.5,449.0 Z" fill="#e8143c"/>
<path d="M1123.5,442.3 L1128.8,451.0 L1123.8,448.8 Z" fill="none" stroke="#9a1030" stroke-width="1"/>
<path d="M1155.5,446.8 L1150,456.3 L1155.5,454.0 Z" fill="#e8143c"/>
<path d="M1155.5,447.3 L1160.8,456.0 L1155.8,453.8 Z" fill="none" stroke="#9a1030" stroke-width="1"/>
<path d="M1179.5,425.8 L1174,435.3 L1179.5,433.0 Z" fill="#e8143c"/>
<path d="M1179.5,426.3 L1184.8,435.0 L1179.8,432.8 Z" fill="none" stroke="#9a1030" stroke-width="1"/>
<path d="M27.5,180.8 L33,171.3 L27.5,173.60000000000002 Z" fill="#e8143c"/>
<path d="M27.5,180.3 L22.2,171.60000000000002 L27.2,173.8 Z" fill="none" stroke="#9a1030" stroke-width="1"/>
<path d="M99.5,249.8 L105,240.3 L99.5,242.60000000000002 Z" fill="#e8143c"/>
<path d="M99.5,249.3 L94.2,240.60000000000002 L99.2,242.8 Z" fill="none" stroke="#9a1030" stroke-width="1"/>
<path d="M139.5,209.8 L145,200.3 L139.5,202.60000000000002 Z" fill="#e8143c"/>
<path d="M139.5,209.3 L134.2,200.60000000000002 L139.2,202.8 Z" fill="none" stroke="#9a1030" stroke-width="1"/>
<path d="M163.5,201.8 L169,192.3 L163.5,194.60000000000002 Z" fill="#e8143c"/>
<path d="M163.5,201.3 L158.2,192.60000000000002 L163.2,194.8 Z" fill="none" stroke="#9a1030" stroke-width="1"/>
<path d="M187.5,218.8 L193,209.3 L187.5,211.60000000000002 Z" fill="#e8143c"/>
<path d="M187.5,218.3 L182.2,209.60000000000002 L187.2,211.8 Z" fill="none" stroke="#9a1030" stroke-width="1"/>
<path d="M227.5,205.8 L233,196.3 L227.5,198.60000000000002 Z" fill="#e8143c"/>
<path d="M227.5,205.3 L222.2,196.60000000000002 L227.2,198.8 Z" fill="none" stroke="#9a1030" stroke-width="1"/>
<path d="M299.5,291.8 L305,282.3 L299.5,284.6 Z" fill="#e8143c"/>
<path d="M299.5,291.3 L294.2,282.6 L299.2,284.8 Z" fill="none" stroke="#9a1030" stroke-width="1"/>
<path d="M459.5,353.8 L465,344.3 L459.5,346.6 Z" fill="#e8143c"/>
<path d="M459.5,353.3 L454.2,344.6 L459.2,346.8 Z" fill="none" stroke="#9a1030" stroke-width="1"/>
<path d="M507.5,364.8 L513,355.3 L507.5,357.6 Z" fill="#e8143c"/>
<path d="M507.5,364.3 L502.2,355.6 L507.2,357.8 Z" fill="none" stroke="#9a1030" stroke-width="1"/>
<path d="M547.5,353.8 L553,344.3 L547.5,346.6 Z" fill="#e8143c"/>
<path d="M547.5,353.3 L542.2,344.6 L547.2,346.8 Z" fill="none" stroke="#9a1030" stroke-width="1"/>
<path d="M595.5,335.8 L601,326.3 L595.5,328.6 Z" fill="#e8143c"/>
<path d="M595.5,335.3 L590.2,326.6 L595.2,328.8 Z" fill="none" stroke="#9a1030" stroke-width="1"/>
<path d="M651.5,395.8 L657,386.3 L651.5,388.6 Z" fill="#e8143c"/>
<path d="M651.5,395.3 L646.2,386.6 L651.2,388.8 Z" fill="none" stroke="#9a1030" stroke-width="1"/>
<path d="M707.5,384.8 L713,375.3 L707.5,377.6 Z" fill="#e8143c"/>
<path d="M707.5,384.3 L702.2,375.6 L707.2,377.8 Z" fill="none" stroke="#9a1030" stroke-width="1"/>
<path d="M835.5,504.8 L841,495.3 L835.5,497.6 Z" fill="#e8143c"/>
<path d="M835.5,504.3 L830.2,495.6 L835.2,497.8 Z" fill="none" stroke="#9a1030" stroke-width="1"/>
<path d="M875.5,492.8 L881,483.3 L875.5,485.6 Z" fill="#e8143c"/>
<path d="M875.5,492.3 L870.2,483.6 L875.2,485.8 Z" fill="none" stroke="#9a1030" stroke-width="1"/>
<path d="M907.5,519.8 L913,510.29999999999995 L907.5,512.5999999999999 Z" fill="#e8143c"/>
<path d="M907.5,519.3 L902.2,510.59999999999997 L907.2,512.8 Z" fill="none" stroke="#9a1030" stroke-width="1"/>
<path d="M955.5,553.8 L961,544.3 L955.5,546.5999999999999 Z" fill="#e8143c"/>
<path d="M955.5,553.3 L950.2,544.5999999999999 L955.2,546.8 Z" fill="none" stroke="#9a1030" stroke-width="1"/>
<path d="M1027.5,546.8 L1033,537.3 L1027.5,539.5999999999999 Z" fill="#e8143c"/>
<path d="M1027.5,546.3 L1022.2,537.5999999999999 L1027.2,539.8 Z" fill="none" stroke="#9a1030" stroke-width="1"/>
<path d="M1083.5,561.8 L1089,552.3 L1083.5,554.5999999999999 Z" fill="#e8143c"/>
<path d="M1083.5,561.3 L1078.2,552.5999999999999 L1083.2,554.8 Z" fill="none" stroke="#9a1030" stroke-width="1"/>
<path d="M1123.5,529.8 L1129,520.3 L1123.5,522.5999999999999 Z" fill="#e8143c"/>
<path d="M1123.5,529.3 L1118.2,520.5999999999999 L1123.2,522.8 Z" fill="none" stroke="#9a1030" stroke-width="1"/>
<path d="M1171.5,524.8 L1177,515.3 L1171.5,517.5999999999999 Z" fill="#e8143c"/>
<path d="M1171.5,524.3 L1166.2,515.5999999999999 L1171.2,517.8 Z" fill="none" stroke="#9a1030" stroke-width="1"/>
</g>
<rect x="1255" y="30" width="2" height="1" fill="#fff"/>
<text x="1260" y="34" font-family="Liberation Sans, Arial, sans-serif" font-size="10" letter-spacing="-0.5" fill="#fff" >0.63260</text>
<rect x="1255" y="63" width="2" height="1" fill="#fff"/>
<text x="1260" y="67" font-family="Liberation Sans, Arial, sans-serif" font-size="10" letter-spacing="-0.5" fill="#fff" >0.62985</text>
<rect x="1255" y="96" width="2" height="1" fill="#fff"/>
<text x="1260" y="100" font-family="Liberation Sans, Arial, sans-serif" font-size="10" letter-spacing="-0.5" fill="#fff" >0.62710</text>
<rect x="1255" y="129" width="2" height="1" fill="#fff"/>
<text x="1260" y="133" font-family="Liberation Sans, Arial, sans-serif" font-size="10" letter-spacing="-0.5" fill="#fff" >0.62435</text>
<rect x="1255" y="162" width="2" height="1" fill="#fff"/>
<text x="1260" y="166" font-family="Liberation Sans, Arial, sans-serif" font-size="10" letter-spacing="-0.5" fill="#fff" >0.62160</text>
<rect x="1255" y="195" width="2" height="1" fill="#fff"/>
<text x="1260" y="199" font-family="Liberation Sans, Arial, sans-serif" font-size="10" letter-spacing="-0.5" fill="#fff" >0.61885</text>
<rect x="1255" y="228" width="2" height="1" fill="#fff"/>
<text x="1260" y="232" font-family="Liberation Sans, Arial, sans-serif" font-size="10" letter-spacing="-0.5" fill="#fff" >0.61610</text>
<rect x="1255" y="261" width="2" height="1" fill="#fff"/>
<text x="1260" y="265" font-family="Liberation Sans, Arial, sans-serif" font-size="10" letter-spacing="-0.5" fill="#fff" >0.61335</text>
<rect x="1255" y="294" width="2" height="1" fill="#fff"/>
<text x="1260" y="298" font-family="Liberation Sans, Arial, sans-serif" font-size="10" letter-spacing="-0.5" fill="#fff" >0.61060</text>
<rect x="1255" y="327" width="2" height="1" fill="#fff"/>
<text x="1260" y="331" font-family="Liberation Sans, Arial, sans-serif" font-size="10" letter-spacing="-0.5" fill="#fff" >0.60785</text>
<rect x="1255" y="360" width="2" height="1" fill="#fff"/>
<text x="1260" y="364" font-family="Liberation Sans, Arial, sans-serif" font-size="10" letter-spacing="-0.5" fill="#fff" >0.60510</text>
<rect x="1255" y="393" width="2" height="1" fill="#fff"/>
<text x="1260" y="397" font-family="Liberation Sans, Arial, sans-serif" font-size="10" letter-spacing="-0.5" fill="#fff" >0.60235</text>
<rect x="1255" y="426" width="2" height="1" fill="#fff"/>
<text x="1260" y="430" font-family="Liberation Sans, Arial, sans-serif" font-size="10" letter-spacing="-0.5" fill="#fff" >0.59960</text>
<rect x="1255" y="459" width="2" height="1" fill="#fff"/>
<text x="1260" y="463" font-family="Liberation Sans, Arial, sans-serif" font-size="10" letter-spacing="-0.5" fill="#fff" >0.59688</text>
<rect x="1255" y="492" width="2" height="1" fill="#fff"/>
<text x="1260" y="496" font-family="Liberation Sans, Arial, sans-serif" font-size="10" letter-spacing="-0.5" fill="#fff" >0.59415</text>
<rect x="1255" y="525" width="2" height="1" fill="#fff"/>
<text x="1260" y="529" font-family="Liberation Sans, Arial, sans-serif" font-size="10" letter-spacing="-0.5" fill="#fff" >0.59140</text>
<rect x="1255" y="558" width="2" height="1" fill="#fff"/>
<text x="1260" y="562" font-family="Liberation Sans, Arial, sans-serif" font-size="10" letter-spacing="-0.5" fill="#fff" >0.58865</text>
<rect x="1255" y="591" width="2" height="1" fill="#fff"/>
<text x="1260" y="595" font-family="Liberation Sans, Arial, sans-serif" font-size="10" letter-spacing="-0.5" fill="#fff" >0.58590</text>
<rect x="1256" y="459" width="41" height="11" fill="#fff"/>
<text x="1260" y="468" font-family="Liberation Sans, Arial, sans-serif" font-size="10" letter-spacing="-0.5" fill="#000" >0.59646</text>
<rect x="1255" y="598" width="2" height="1" fill="#fff"/>
<rect x="1255" y="608" width="2" height="1" fill="#fff"/>
<text x="1258" y="607" font-family="Liberation Sans, Arial, sans-serif" font-size="10" letter-spacing="-0.5" fill="#fff" >0.000816</text>
<rect x="1257" y="603" width="20" height="10" fill="#000"/>
<text x="1258" y="612" font-family="Liberation Sans, Arial, sans-serif" font-size="10" letter-spacing="-0.5" fill="#fff" >0.00</text>
<text x="1258" y="652" font-family="Liberation Sans, Arial, sans-serif" font-size="10" letter-spacing="-0.5" fill="#fff" >-0.003509</text>
<rect x="1255" y="654" width="2" height="1" fill="#fff"/>
<text x="1258" y="668" font-family="Liberation Sans, Arial, sans-serif" font-size="10" letter-spacing="-0.5" fill="#fff" >100</text>
<text x="1257" y="698" font-family="Liberation Sans, Arial, sans-serif" font-size="10" letter-spacing="-0.5" fill="#fff" >70</text>
<text x="1257" y="745" font-family="Liberation Sans, Arial, sans-serif" font-size="10" letter-spacing="-0.5" fill="#fff" >30</text>
<text x="1258" y="774" font-family="Liberation Sans, Arial, sans-serif" font-size="10" letter-spacing="-0.5" fill="#fff" >0</text>
<rect x="1255" y="659" width="2" height="1" fill="#fff"/>
<rect x="1255" y="776" width="2" height="1" fill="#fff"/>
<rect x="3" y="778" width="1" height="3" fill="#fff"/>
<text x="2" y="790" font-family="Liberation Sans, Arial, sans-serif" font-size="10" letter-spacing="-0.5" fill="#fff" word-spacing="1">20 Jul 2023</text>
<rect x="67" y="778" width="1" height="3" fill="#fff"/>
<text x="66" y="790" font-family="Liberation Sans, Arial, sans-serif" font-size="10" letter-spacing="-0.5" fill="#fff" word-spacing="1">21 Jul 12:00</text>
<rect x="131" y="778" width="1" height="3" fill="#fff"/>
<text x="130" y="790" font-family="Liberation Sans, Arial, sans-serif" font-size="10" letter-spacing="-0.5" fill="#fff" word-spacing="1">24 Jul 20:00</text>
<rect x="195" y="778" width="1" height="3" fill="#fff"/>
<text x="194" y="790" font-family="Liberation Sans, Arial, sans-serif" font-size="10" letter-spacing="-0.5" fill="#fff" word-spacing="1">26 Jul 04:00</text>
<rect x="259" y="778" width="1" height="3" fill="#fff"/>
<text x="258" y="790" font-family="Liberation Sans, Arial, sans-serif" font-size="10" letter-spacing="-0.5" fill="#fff" word-spacing="1">27 Jul 12:00</text>
<rect x="323" y="778" width="1" height="3" fill="#fff"/>
<text x="322" y="790" font-family="Liberation Sans, Arial, sans-serif" font-size="10" letter-spacing="-0.5" fill="#fff" word-spacing="1">28 Jul 20:00</text>
<rect x="387" y="778" width="1" height="3" fill="#fff"/>
<text x="386" y="790" font-family="Liberation Sans, Arial, sans-serif" font-size="10" letter-spacing="-0.5" fill="#fff" word-spacing="1">1 Aug 04:00</text>
<rect x="451" y="778" width="1" height="3" fill="#fff"/>
<text x="450" y="790" font-family="Liberation Sans, Arial, sans-serif" font-size="10" letter-spacing="-0.5" fill="#fff" word-spacing="1">2 Aug 12:00</text>
<rect x="515" y="778" width="1" height="3" fill="#fff"/>
<text x="514" y="790" font-family="Liberation Sans, Arial, sans-serif" font-size="10" letter-spacing="-0.5" fill="#fff" word-spacing="1">3 Aug 20:00</text>
<rect x="579" y="778" width="1" height="3" fill="#fff"/>
<text x="578" y="790" font-family="Liberation Sans, Arial, sans-serif" font-size="10" letter-spacing="-0.5" fill="#fff" word-spacing="1">7 Aug 04:00</text>
<rect x="643" y="778" width="1" height="3" fill="#fff"/>
<text x="642" y="790" font-family="Liberation Sans, Arial, sans-serif" font-size="10" letter-spacing="-0.5" fill="#fff" word-spacing="1">8 Aug 12:00</text>
<rect x="707" y="778" width="1" height="3" fill="#fff"/>
<text x="706" y="790" font-family="Liberation Sans, Arial, sans-serif" font-size="10" letter-spacing="-0.5" fill="#fff" word-spacing="1">9 Aug 20:00</text>
<rect x="771" y="778" width="1" height="3" fill="#fff"/>
<text x="770" y="790" font-family="Liberation Sans, Arial, sans-serif" font-size="10" letter-spacing="-0.5" fill="#fff" word-spacing="1">11 Aug 04:00</text>
<rect x="835" y="778" width="1" height="3" fill="#fff"/>
<text x="834" y="790" font-family="Liberation Sans, Arial, sans-serif" font-size="10" letter-spacing="-0.5" fill="#fff" word-spacing="1">14 Aug 12:00</text>
<rect x="899" y="778" width="1" height="3" fill="#fff"/>
<text x="898" y="790" font-family="Liberation Sans, Arial, sans-serif" font-size="10" letter-spacing="-0.5" fill="#fff" word-spacing="1">15 Aug 20:00</text>
<rect x="963" y="778" width="1" height="3" fill="#fff"/>
<text x="962" y="790" font-family="Liberation Sans, Arial, sans-serif" font-size="10" letter-spacing="-0.5" fill="#fff" word-spacing="1">17 Aug 04:00</text>
<rect x="1027" y="778" width="1" height="3" fill="#fff"/>
<text x="1026" y="790" font-family="Liberation Sans, Arial, sans-serif" font-size="10" letter-spacing="-0.5" fill="#fff" word-spacing="1">18 Aug 12:00</text>
<rect x="1091" y="778" width="1" height="3" fill="#fff"/>
<text x="1090" y="790" font-family="Liberation Sans, Arial, sans-serif" font-size="10" letter-spacing="-0.5" fill="#fff" word-spacing="1">21 Aug 20:00</text>
<rect x="1155" y="778" width="1" height="3" fill="#fff"/>
<text x="1154" y="790" font-family="Liberation Sans, Arial, sans-serif" font-size="10" letter-spacing="-0.5" fill="#fff" word-spacing="1">23 Aug 04:00</text>
<path d="M6,9 L13,9 L9.5,13 Z" fill="#fff"/>
<text x="18" y="14" font-family="Liberation Sans, Arial, sans-serif" font-size="10" letter-spacing="-0.3" fill="#fff" >NZDUSD,H4</text>
<text x="78" y="14" font-family="Liberation Sans, Arial, sans-serif" font-size="10" letter-spacing="-0.5" fill="#fff" >0.59595</text>
<text x="114" y="14" font-family="Liberation Sans, Arial, sans-serif" font-size="10" letter-spacing="-0.5" fill="#fff" >0.59746</text>
<text x="150" y="14" font-family="Liberation Sans, Arial, sans-serif" font-size="10" letter-spacing="-0.5" fill="#fff" >0.59588</text>
<text x="186" y="14" font-family="Liberation Sans, Arial, sans-serif" font-size="10" letter-spacing="-0.5" fill="#fff" >0.59646</text>
<text x="7" y="609" font-family="Liberation Sans, Arial, sans-serif" font-size="10" letter-spacing="-0.35" fill="#fff" >MACD(12,26,9) 0.000619 0.000163</text>
<text x="7" y="670" font-family="Liberation Sans, Arial, sans-serif" font-size="10" letter-spacing="-0.4" fill="#fff" >RSI(13) 55.0676</text>
<text x="148" y="113.8" font-family="Liberation Sans, Arial, sans-serif" font-size="14" letter-spacing="-0.5" fill="#00ff00">Fractals</text>
<text x="397.5" y="143.6" font-family="Liberation Sans, Arial, sans-serif" font-size="14" letter-spacing="-0.5" fill="#00ff00">Parabolic SAR(0.02,0.2)</text>
<text x="828.3" y="302" font-family="Liberation Sans, Arial, sans-serif" font-size="14" letter-spacing="-0.5" fill="#00ff00">Donchian Channel(10)</text>
<text x="1135.8" y="245.8" font-family="Liberation Sans, Arial, sans-serif" font-size="20" letter-spacing="-0.65" fill="#ffd700">MA(200)</text>
<path d="M1235.5,441.5 L1244,449.5 L1239.5,449.5 L1239.5,460.5 L1231.5,460.5 L1231.5,449.5 L1227,449.5 Z" fill="none" stroke="#fff" stroke-width="1"/>
</svg>
</body></html>
